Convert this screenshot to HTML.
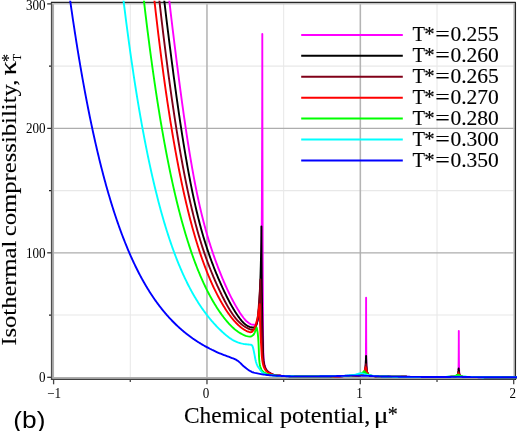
<!DOCTYPE html>
<html><head><meta charset="utf-8"><title>plot</title><style>html,body{margin:0;padding:0;background:#fff}svg{display:block;will-change:transform}</style></head><body>
<svg width="517" height="431" viewBox="0 0 517 431">
<rect width="517" height="431" fill="#fff"/>
<defs><clipPath id="c"><rect x="51" y="0.8" width="466" height="379.4"/></clipPath></defs>
<line x1="130.28" y1="3" x2="130.28" y2="378" stroke="#e8e8e8" stroke-width="1.05"/>
<line x1="283.65" y1="3" x2="283.65" y2="378" stroke="#e8e8e8" stroke-width="1.05"/>
<line x1="437.02" y1="3" x2="437.02" y2="378" stroke="#e8e8e8" stroke-width="1.05"/>
<line x1="53" y1="315.07" x2="514" y2="315.07" stroke="#e8e8e8" stroke-width="1.05"/>
<line x1="53" y1="190.60" x2="514" y2="190.60" stroke="#e8e8e8" stroke-width="1.05"/>
<line x1="53" y1="66.13" x2="514" y2="66.13" stroke="#e8e8e8" stroke-width="1.05"/>
<line x1="206.97" y1="3" x2="206.97" y2="378.7" stroke="#b4b4b4" stroke-width="1.55"/>
<line x1="360.33" y1="3" x2="360.33" y2="378.7" stroke="#b4b4b4" stroke-width="1.55"/>
<line x1="52.4" y1="252.83" x2="514.8" y2="252.83" stroke="#adadad" stroke-width="1.2"/>
<line x1="52.4" y1="128.37" x2="514.8" y2="128.37" stroke="#adadad" stroke-width="1.2"/>
<path d="M53.2,3.8 V377.9 H514" fill="none" stroke="#adadad" stroke-width="1.7"/>
<path d="M53.2,3.8 H514 V377.9" fill="none" stroke="#c4c4c4" stroke-width="1.5"/>
<path d="M51.6,380 V2.45" fill="none" stroke="#4c4c4c" stroke-width="1.4"/>
<path d="M50.9,379.3 H516.1" fill="none" stroke="#404040" stroke-width="1.3"/>
<path d="M50.9,2.45 H515.4 V380" fill="none" stroke="#262626" stroke-width="1.3" stroke-linejoin="round"/>
<line x1="47.2" y1="377.30" x2="51" y2="377.30" stroke="#222" stroke-width="1.2"/>
<line x1="47.2" y1="252.83" x2="51" y2="252.83" stroke="#222" stroke-width="1.2"/>
<line x1="47.2" y1="128.37" x2="51" y2="128.37" stroke="#222" stroke-width="1.2"/>
<line x1="47.2" y1="3.90" x2="51" y2="3.90" stroke="#222" stroke-width="1.2"/>
<line x1="49" y1="315.07" x2="51" y2="315.07" stroke="#222" stroke-width="1.2"/>
<line x1="49" y1="190.60" x2="51" y2="190.60" stroke="#222" stroke-width="1.2"/>
<line x1="49" y1="66.13" x2="51" y2="66.13" stroke="#222" stroke-width="1.2"/>
<line x1="53.60" y1="380" x2="53.60" y2="384.3" stroke="#444" stroke-width="1.3"/>
<line x1="206.97" y1="380" x2="206.97" y2="384.3" stroke="#444" stroke-width="1.3"/>
<line x1="360.33" y1="380" x2="360.33" y2="384.3" stroke="#444" stroke-width="1.3"/>
<line x1="513.70" y1="380" x2="513.70" y2="384.3" stroke="#444" stroke-width="1.3"/>
<line x1="130.28" y1="380" x2="130.28" y2="382.0" stroke="#444" stroke-width="1.3"/>
<line x1="283.65" y1="380" x2="283.65" y2="382.0" stroke="#444" stroke-width="1.3"/>
<line x1="437.02" y1="380" x2="437.02" y2="382.0" stroke="#444" stroke-width="1.3"/>
<g clip-path="url(#c)" fill="none" stroke-width="1.9" stroke-linejoin="round" stroke-linecap="butt">
<path d="M167.03,-20.00 L167.53,-15.37 L168.03,-10.80 L168.53,-6.29 L169.03,-1.82 L169.53,2.59 L170.03,6.96 L170.53,11.27 L171.03,15.53 L171.53,19.74 L172.03,23.90 L172.53,28.02 L173.03,32.11 L173.53,36.19 L174.03,40.25 L174.53,44.30 L175.03,48.34 L175.53,52.35 L176.03,56.35 L176.53,60.33 L177.03,64.28 L177.53,68.21 L178.03,72.11 L178.53,75.99 L179.03,79.83 L179.53,83.65 L180.03,87.44 L180.53,91.20 L181.03,94.92 L181.53,98.61 L182.03,102.27 L182.53,105.89 L183.03,109.48 L183.53,113.03 L184.03,116.54 L184.53,120.01 L185.03,123.45 L185.53,126.85 L186.03,130.20 L186.53,133.52 L187.03,136.80 L187.53,140.04 L188.03,143.23 L188.53,146.39 L189.03,149.50 L189.53,152.57 L190.03,155.60 L190.53,158.59 L191.03,161.53 L191.53,164.43 L192.03,167.29 L192.53,170.11 L193.03,172.89 L193.53,175.62 L194.03,178.31 L194.53,180.96 L195.03,183.57 L195.53,186.13 L196.03,188.65 L196.53,191.13 L197.03,193.57 L197.53,195.97 L198.03,198.32 L198.53,200.64 L199.03,202.91 L199.53,205.15 L200.03,207.34 L200.53,209.50 L201.03,211.61 L201.53,213.69 L202.03,215.74 L202.53,217.75 L203.03,219.73 L203.53,221.67 L204.03,223.59 L204.53,225.47 L205.03,227.32 L205.53,229.14 L206.03,230.94 L206.53,232.71 L207.03,234.45 L207.53,236.17 L208.03,237.86 L208.53,239.52 L209.03,241.17 L209.53,242.78 L210.03,244.38 L210.53,245.96 L211.03,247.51 L211.53,249.04 L212.03,250.56 L212.53,252.05 L213.03,253.53 L213.53,254.98 L214.03,256.42 L214.53,257.84 L215.03,259.25 L215.53,260.64 L216.03,262.01 L216.53,263.36 L217.03,264.70 L217.53,266.03 L218.03,267.34 L218.53,268.64 L219.03,269.92 L219.53,271.19 L220.03,272.45 L220.53,273.70 L221.03,274.93 L221.53,276.15 L222.03,277.36 L222.53,278.56 L223.03,279.74 L223.53,280.92 L224.03,282.08 L224.53,283.23 L225.03,284.37 L225.53,285.50 L226.03,286.61 L226.53,287.71 L227.03,288.81 L227.53,289.89 L228.03,290.95 L228.53,292.01 L229.03,293.05 L229.53,294.08 L230.03,295.10 L230.53,296.11 L231.03,297.10 L231.53,298.08 L232.03,299.05 L232.53,300.01 L233.03,300.96 L233.53,301.89 L234.03,302.81 L234.53,303.72 L235.03,304.62 L235.53,305.50 L236.03,306.38 L236.53,307.24 L237.03,308.09 L237.53,308.92 L238.03,309.75 L238.53,310.56 L239.03,311.36 L239.53,312.15 L240.03,312.92 L240.53,313.67 L241.03,314.40 L241.53,315.11 L242.19,316.02 L242.92,317.01 L243.66,318.00 L244.43,318.98 L245.23,319.91 L246.06,320.78 L246.93,321.58 L247.84,322.27 L248.83,323.00 L249.90,323.70 L251.01,324.29 L252.15,324.64 L253.33,324.70 L254.55,324.70 L255.61,324.28 L256.55,323.28 L257.10,322.26 L257.46,321.26 L257.78,320.19 L258.07,319.04 L258.31,317.85 L258.53,316.61 L258.72,315.35 L258.88,314.08 L259.03,312.82 L259.15,311.56 L259.27,310.34 L259.38,309.14 L259.48,307.94 L259.58,306.74 L259.67,305.54 L259.76,304.34 L259.85,303.14 L259.94,301.94 L260.02,300.74 L260.09,299.53 L260.17,298.32 L260.24,297.12 L260.30,295.91 L260.37,294.70 L260.43,293.50 L260.48,292.29 L260.54,291.08 L260.59,289.87 L260.64,288.66 L260.68,287.45 L260.73,286.24 L260.76,285.04 L260.80,283.83 L260.84,282.62 L260.87,281.41 L260.90,280.21 L260.92,279.00 L260.95,277.80 L260.97,276.59 L261.00,275.38 L261.03,274.18 L261.05,272.97 L261.07,271.76 L261.10,270.56 L261.12,269.35 L261.15,268.15 L261.17,266.94 L261.19,265.73 L261.21,264.53 L261.23,263.32 L261.26,262.11 L261.28,260.91 L261.30,259.70 L261.32,258.49 L261.34,257.29 L261.36,256.08 L261.37,254.87 L261.39,253.67 L261.41,252.46 L261.43,251.25 L261.45,250.05 L261.46,248.84 L261.48,247.63 L261.50,246.42 L261.51,245.22 L261.53,244.01 L261.54,242.80 L261.56,241.60 L261.57,240.39 L261.59,239.18 L261.60,237.98 L261.62,236.77 L261.63,235.56 L261.64,234.35 L261.66,233.15 L261.67,231.94 L261.68,230.73 L261.69,229.53 L261.71,228.32 L261.72,227.11 L261.73,225.90 L261.74,224.70 L261.75,223.49 L261.76,222.28 L261.77,221.08 L261.78,219.87 L261.79,218.66 L261.80,217.45 L261.81,216.25 L261.82,215.04 L261.82,213.83 L261.83,212.63 L261.84,211.42 L261.85,210.21 L261.85,209.00 L261.86,207.80 L261.87,206.59 L261.87,205.38 L261.88,204.18 L261.89,202.97 L261.89,201.76 L261.90,200.56 L261.90,199.35 L261.91,198.14 L261.91,196.94 L261.92,195.73 L261.92,194.52 L261.93,193.31 L261.93,192.11 L261.94,190.90 L261.94,189.69 L261.95,188.49 L261.95,187.28 L261.96,186.07 L261.96,184.87 L261.97,183.66 L261.97,182.45 L261.98,181.25 L261.98,180.04 L261.99,178.83 L261.99,177.63 L262.00,176.42 L262.00,175.21 L262.01,174.00 L262.01,172.80 L262.02,171.59 L262.02,170.38 L262.03,169.18 L262.03,167.97 L262.03,166.76 L262.04,165.56 L262.04,164.35 L262.05,163.14 L262.05,161.94 L262.06,160.73 L262.06,159.52 L262.07,158.31 L262.07,157.11 L262.07,155.90 L262.08,154.69 L262.08,153.49 L262.09,152.28 L262.09,151.07 L262.09,149.87 L262.10,148.66 L262.10,147.45 L262.11,146.25 L262.11,145.04 L262.11,143.83 L262.12,142.63 L262.12,141.42 L262.13,140.21 L262.13,139.00 L262.13,137.80 L262.14,136.59 L262.14,135.38 L262.14,134.18 L262.15,132.97 L262.15,131.76 L262.15,130.56 L262.16,129.35 L262.16,128.14 L262.16,126.94 L262.17,125.73 L262.17,124.52 L262.17,123.31 L262.18,122.11 L262.18,120.90 L262.18,119.69 L262.19,118.49 L262.19,117.28 L262.19,116.07 L262.20,114.87 L262.20,113.66 L262.20,112.45 L262.21,111.25 L262.21,110.04 L262.21,108.83 L262.21,107.62 L262.22,106.42 L262.22,105.21 L262.22,104.00 L262.22,102.80 L262.23,101.59 L262.23,100.38 L262.23,99.18 L262.23,97.97 L262.24,96.76 L262.24,95.56 L262.24,94.35 L262.24,93.14 L262.25,91.93 L262.25,90.73 L262.25,89.52 L262.25,88.31 L262.25,87.11 L262.26,85.90 L262.26,84.69 L262.26,83.49 L262.26,82.28 L262.26,81.07 L262.27,79.86 L262.27,78.66 L262.27,77.45 L262.27,76.24 L262.27,75.04 L262.27,73.83 L262.28,72.62 L262.28,71.42 L262.28,70.21 L262.28,69.00 L262.28,67.80 L262.28,66.59 L262.28,65.38 L262.28,64.17 L262.29,62.97 L262.29,61.76 L262.29,60.55 L262.29,59.35 L262.29,58.14 L262.29,56.93 L262.29,55.73 L262.29,54.52 L262.29,53.31 L262.29,52.10 L262.30,50.90 L262.30,49.69 L262.30,48.48 L262.30,47.28 L262.30,46.07 L262.30,44.86 L262.30,43.66 L262.30,42.45 L262.30,41.24 L262.30,40.03 L262.30,38.83 L262.30,37.62 L262.30,36.41 L262.30,35.21 L262.30,34.00 L262.30,35.21 L262.30,36.41 L262.30,37.62 L262.30,38.82 L262.30,40.03 L262.30,41.23 L262.30,42.44 L262.30,43.64 L262.30,44.85 L262.30,46.06 L262.31,47.26 L262.31,48.47 L262.31,49.67 L262.31,50.88 L262.31,52.08 L262.31,53.29 L262.31,54.50 L262.31,55.70 L262.31,56.91 L262.31,58.11 L262.31,59.32 L262.31,60.52 L262.32,61.73 L262.32,62.93 L262.32,64.14 L262.32,65.35 L262.32,66.55 L262.32,67.76 L262.32,68.96 L262.32,70.17 L262.32,71.37 L262.33,72.58 L262.33,73.79 L262.33,74.99 L262.33,76.20 L262.33,77.40 L262.33,78.61 L262.33,79.81 L262.33,81.02 L262.34,82.22 L262.34,83.43 L262.34,84.64 L262.34,85.84 L262.34,87.05 L262.34,88.25 L262.34,89.46 L262.35,90.66 L262.35,91.87 L262.35,93.07 L262.35,94.28 L262.35,95.49 L262.35,96.69 L262.36,97.90 L262.36,99.10 L262.36,100.31 L262.36,101.51 L262.36,102.72 L262.36,103.93 L262.37,105.13 L262.37,106.34 L262.37,107.54 L262.37,108.75 L262.37,109.95 L262.38,111.16 L262.38,112.36 L262.38,113.57 L262.38,114.78 L262.38,115.98 L262.39,117.19 L262.39,118.39 L262.39,119.60 L262.39,120.80 L262.39,122.01 L262.40,123.21 L262.40,124.42 L262.40,125.63 L262.40,126.83 L262.40,128.04 L262.41,129.24 L262.41,130.45 L262.41,131.65 L262.41,132.86 L262.41,134.07 L262.42,135.27 L262.42,136.48 L262.42,137.68 L262.42,138.89 L262.43,140.09 L262.43,141.30 L262.43,142.50 L262.43,143.71 L262.44,144.92 L262.44,146.12 L262.44,147.33 L262.44,148.53 L262.44,149.74 L262.45,150.94 L262.45,152.15 L262.45,153.35 L262.45,154.56 L262.46,155.77 L262.46,156.97 L262.46,158.18 L262.46,159.38 L262.47,160.59 L262.47,161.79 L262.47,163.00 L262.47,164.21 L262.48,165.41 L262.48,166.62 L262.48,167.82 L262.48,169.03 L262.49,170.23 L262.49,171.44 L262.49,172.64 L262.49,173.85 L262.50,175.06 L262.50,176.26 L262.50,177.47 L262.50,178.67 L262.51,179.88 L262.51,181.08 L262.51,182.29 L262.51,183.49 L262.52,184.70 L262.52,185.91 L262.52,187.11 L262.52,188.32 L262.53,189.52 L262.53,190.73 L262.53,191.93 L262.54,193.14 L262.54,194.35 L262.54,195.55 L262.54,196.76 L262.55,197.96 L262.55,199.17 L262.55,200.37 L262.55,201.58 L262.56,202.78 L262.56,203.99 L262.56,205.20 L262.56,206.40 L262.57,207.61 L262.57,208.81 L262.57,210.02 L262.58,211.22 L262.58,212.43 L262.58,213.63 L262.59,214.84 L262.59,216.05 L262.59,217.25 L262.59,218.46 L262.60,219.66 L262.60,220.87 L262.60,222.07 L262.61,223.28 L262.61,224.49 L262.62,225.69 L262.62,226.90 L262.62,228.10 L262.63,229.31 L262.63,230.51 L262.63,231.72 L262.64,232.92 L262.64,234.13 L262.64,235.34 L262.65,236.54 L262.65,237.75 L262.66,238.95 L262.66,240.16 L262.66,241.36 L262.67,242.57 L262.67,243.77 L262.68,244.98 L262.68,246.19 L262.68,247.39 L262.69,248.60 L262.69,249.80 L262.70,251.01 L262.70,252.21 L262.71,253.42 L262.71,254.63 L262.71,255.83 L262.72,257.04 L262.72,258.24 L262.73,259.45 L262.73,260.65 L262.74,261.86 L262.74,263.06 L262.75,264.27 L262.75,265.48 L262.76,266.68 L262.76,267.89 L262.76,269.09 L262.77,270.30 L262.77,271.50 L262.78,272.71 L262.78,273.91 L262.79,275.12 L262.79,276.33 L262.80,277.53 L262.80,278.74 L262.81,279.94 L262.81,281.15 L262.82,282.35 L262.83,283.56 L262.83,284.77 L262.84,285.97 L262.84,287.18 L262.85,288.38 L262.85,289.59 L262.86,290.79 L262.86,292.00 L262.87,293.20 L262.87,294.41 L262.88,295.62 L262.89,296.82 L262.89,298.03 L262.90,299.23 L262.90,300.44 L262.91,301.64 L262.91,302.85 L262.92,304.05 L262.92,305.26 L262.93,306.47 L262.93,307.67 L262.94,308.88 L262.94,310.08 L262.95,311.29 L262.95,312.49 L262.96,313.70 L262.97,314.91 L262.97,316.11 L262.98,317.32 L262.98,318.52 L262.99,319.73 L262.99,320.93 L263.00,322.14 L263.01,323.35 L263.01,324.55 L263.02,325.76 L263.03,326.96 L263.04,328.17 L263.04,329.37 L263.05,330.58 L263.06,331.79 L263.07,332.99 L263.08,334.20 L263.09,335.40 L263.10,336.61 L263.11,337.81 L263.12,339.02 L263.13,340.22 L263.15,341.43 L263.16,342.63 L263.17,343.84 L263.19,345.04 L263.20,346.25 L263.22,347.46 L263.24,348.66 L263.27,349.87 L263.30,351.08 L263.34,352.28 L263.39,353.49 L263.43,354.69 L263.49,355.90 L263.55,357.10 L263.62,358.30 L263.72,359.50 L263.85,360.71 L264.02,361.92 L264.22,363.11 L264.45,364.29 L264.71,365.44 L265.05,366.63 L265.49,367.80 L266.01,368.93 L266.60,369.95 L267.26,370.85 L268.14,371.66 L269.15,372.40 L270.20,373.06 L271.24,373.67 L272.32,374.26 L273.43,374.73 L274.57,375.04 L275.75,375.28 L276.95,375.47 L278.16,375.62 L279.36,375.73 L280.56,375.81 L281.76,375.89 L282.96,375.95 L284.17,376.01 L285.37,376.06 L286.58,376.11 L287.79,376.14 L288.99,376.18 L290.20,376.20 L291.40,376.23 L292.61,376.25 L293.81,376.28 L295.02,376.30 L296.23,376.32 L297.43,376.34 L298.64,376.36 L299.84,376.37 L301.05,376.38 L302.25,376.39 L303.46,376.40 L304.66,376.40 L305.87,376.40 L307.08,376.40 L308.28,376.40 L309.49,376.40 L310.70,376.40 L311.90,376.40 L313.11,376.39 L314.32,376.39 L315.52,376.39 L316.73,376.38 L317.94,376.38 L319.15,376.38 L320.35,376.37 L321.56,376.37 L322.77,376.36 L323.98,376.36 L325.19,376.35 L326.39,376.34 L327.60,376.34 L328.81,376.33 L330.02,376.32 L331.22,376.31 L332.43,376.30 L333.64,376.29 L334.84,376.28 L336.05,376.27 L337.26,376.26 L338.46,376.25 L339.67,376.23 L340.87,376.22 L342.08,376.20 L343.28,376.19 L344.48,376.17 L345.69,376.16 L346.89,376.14 L348.09,376.12 L349.30,376.10 L350.50,376.08 L351.70,376.06 L352.90,376.04 L354.10,376.02 L355.30,375.99 L356.53,375.94 L357.78,375.84 L359.03,375.69 L360.25,375.51 L361.40,375.28 L362.47,375.01 L363.55,374.45 L364.49,373.54 L364.96,372.56 L365.26,371.45 L365.49,370.21 L365.64,368.95 L365.71,367.73 L365.74,366.53 L365.77,365.33 L365.80,364.13 L365.82,362.93 L365.84,361.72 L365.86,360.51 L365.88,359.31 L365.89,358.10 L365.90,356.89 L365.91,355.68 L365.92,354.47 L365.93,353.26 L365.94,352.05 L365.95,350.85 L365.95,349.64 L365.96,348.44 L365.96,347.23 L365.97,346.02 L365.98,344.82 L365.98,343.61 L365.99,342.41 L365.99,341.20 L366.00,340.00 L366.00,338.79 L366.01,337.59 L366.01,336.38 L366.02,335.17 L366.02,333.97 L366.03,332.76 L366.03,331.56 L366.04,330.35 L366.04,329.15 L366.05,327.94 L366.05,326.74 L366.05,325.53 L366.06,324.32 L366.06,323.12 L366.07,321.91 L366.07,320.71 L366.07,319.50 L366.07,318.30 L366.08,317.09 L366.08,315.88 L366.08,314.68 L366.09,313.47 L366.09,312.27 L366.09,311.06 L366.09,309.86 L366.09,308.65 L366.09,307.45 L366.10,306.24 L366.10,305.03 L366.10,303.83 L366.10,302.62 L366.10,301.42 L366.10,300.21 L366.10,299.01 L366.10,297.80 L366.10,299.01 L366.10,300.22 L366.10,301.43 L366.10,302.64 L366.10,303.85 L366.10,305.06 L366.10,306.26 L366.11,307.47 L366.11,308.68 L366.11,309.89 L366.11,311.10 L366.11,312.31 L366.11,313.52 L366.12,314.73 L366.12,315.94 L366.12,317.15 L366.13,318.36 L366.13,319.57 L366.13,320.77 L366.13,321.98 L366.14,323.19 L366.14,324.40 L366.15,325.61 L366.15,326.82 L366.15,328.03 L366.16,329.24 L366.16,330.45 L366.17,331.66 L366.17,332.87 L366.18,334.08 L366.18,335.28 L366.19,336.49 L366.19,337.70 L366.20,338.91 L366.20,340.12 L366.21,341.33 L366.21,342.54 L366.22,343.75 L366.22,344.96 L366.23,346.17 L366.24,347.38 L366.24,348.59 L366.25,349.79 L366.26,351.00 L366.26,352.21 L366.27,353.42 L366.28,354.64 L366.29,355.85 L366.30,357.06 L366.31,358.27 L366.32,359.48 L366.34,360.69 L366.36,361.90 L366.38,363.11 L366.40,364.32 L366.43,365.52 L366.46,366.73 L366.50,367.93 L366.59,369.14 L366.77,370.35 L367.00,371.52 L367.36,372.73 L367.89,373.86 L368.59,374.68 L369.66,375.36 L370.85,375.78 L371.99,375.93 L373.17,376.05 L374.37,376.15 L375.59,376.24 L376.83,376.30 L378.06,376.35 L379.29,376.38 L380.50,376.41 L381.71,376.44 L382.91,376.46 L384.12,376.48 L385.33,376.51 L386.54,376.53 L387.75,376.55 L388.95,376.57 L390.16,376.59 L391.37,376.62 L392.58,376.64 L393.79,376.65 L395.00,376.67 L396.21,376.69 L397.41,376.71 L398.62,376.73 L399.83,376.74 L401.04,376.76 L402.25,376.77 L403.46,376.79 L404.67,376.80 L405.88,376.82 L407.09,376.83 L408.30,376.84 L409.51,376.85 L410.72,376.87 L411.93,376.88 L413.14,376.89 L414.35,376.90 L415.56,376.91 L416.77,376.92 L417.98,376.93 L419.19,376.93 L420.39,376.94 L421.60,376.95 L422.81,376.96 L424.02,376.96 L425.23,376.97 L426.44,376.97 L427.65,376.98 L428.86,376.98 L430.07,376.99 L431.28,376.99 L432.49,376.99 L433.70,376.99 L434.91,377.00 L436.12,377.00 L437.33,377.00 L438.54,377.00 L439.74,377.00 L440.96,377.00 L442.18,376.99 L443.41,376.99 L444.64,376.98 L445.87,376.96 L447.11,376.94 L448.33,376.91 L449.56,376.88 L450.77,376.84 L451.97,376.79 L453.15,376.74 L454.32,376.67 L455.46,376.60 L456.72,376.25 L457.62,375.57 L458.01,374.59 L458.27,373.30 L458.40,372.01 L458.45,370.82 L458.49,369.62 L458.52,368.41 L458.55,367.21 L458.58,366.00 L458.60,364.79 L458.62,363.58 L458.64,362.36 L458.65,361.15 L458.66,359.93 L458.67,358.72 L458.68,357.51 L458.69,356.29 L458.70,355.08 L458.71,353.87 L458.72,352.67 L458.72,351.46 L458.73,350.25 L458.74,349.04 L458.75,347.83 L458.75,346.62 L458.76,345.41 L458.77,344.20 L458.77,342.99 L458.78,341.78 L458.78,340.57 L458.79,339.36 L458.79,338.16 L458.79,336.95 L458.79,335.74 L458.80,334.53 L458.80,333.32 L458.80,332.11 L458.80,330.90 L458.80,332.12 L458.80,333.33 L458.80,334.55 L458.81,335.77 L458.81,336.98 L458.81,338.20 L458.82,339.42 L458.82,340.63 L458.82,341.85 L458.83,343.07 L458.84,344.28 L458.84,345.50 L458.85,346.72 L458.85,347.93 L458.86,349.15 L458.87,350.37 L458.88,351.58 L458.88,352.80 L458.89,354.01 L458.90,355.23 L458.91,356.45 L458.92,357.67 L458.93,358.89 L458.94,360.11 L458.95,361.33 L458.97,362.55 L458.98,363.77 L459.01,364.99 L459.03,366.21 L459.06,367.42 L459.09,368.64 L459.12,369.85 L459.16,371.05 L459.21,372.26 L459.35,373.57 L459.61,374.82 L460.00,375.76 L461.03,376.51 L462.24,376.81 L463.38,376.87 L464.55,376.92 L465.74,376.96 L466.96,377.00 L468.20,377.02 L469.44,377.04 L470.69,377.06 L471.94,377.07 L473.19,377.08 L474.42,377.09 L475.64,377.11 L476.85,377.12 L478.07,377.13 L479.29,377.14 L480.50,377.15 L481.72,377.16 L482.94,377.17 L484.15,377.17 L485.37,377.18 L486.58,377.19 L487.80,377.20 L489.02,377.21 L490.23,377.22 L491.45,377.22 L492.67,377.23 L493.88,377.24 L495.10,377.24 L496.32,377.25 L497.53,377.25 L498.75,377.26 L499.97,377.26 L501.18,377.27 L502.40,377.27 L503.62,377.28 L504.83,377.28 L506.05,377.29 L507.27,377.29 L508.48,377.29 L509.70,377.29 L510.92,377.30 L512.13,377.30 L513.35,377.30 L514.57,377.30 L515.78,377.30 L517.00,377.30" stroke="#ff00ff"/>
<path d="M161.94,-20.00 L162.44,-15.46 L162.94,-10.98 L163.44,-6.54 L163.94,-2.16 L164.44,2.17 L164.94,6.46 L165.44,10.69 L165.94,14.88 L166.44,19.02 L166.94,23.11 L167.44,27.16 L167.94,31.17 L168.44,35.17 L168.94,39.15 L169.44,43.11 L169.94,47.05 L170.44,50.97 L170.94,54.87 L171.44,58.75 L171.94,62.60 L172.44,66.43 L172.94,70.23 L173.44,74.01 L173.94,77.76 L174.44,81.47 L174.94,85.16 L175.44,88.82 L175.94,92.45 L176.44,96.05 L176.94,99.61 L177.44,103.14 L177.94,106.64 L178.44,110.11 L178.94,113.54 L179.44,116.93 L179.94,120.29 L180.44,123.62 L180.94,126.91 L181.44,130.16 L181.94,133.38 L182.44,136.56 L182.94,139.70 L183.44,142.81 L183.94,145.87 L184.44,148.91 L184.94,151.90 L185.44,154.85 L185.94,157.77 L186.44,160.65 L186.94,163.50 L187.44,166.30 L187.94,169.07 L188.44,171.80 L188.94,174.49 L189.44,177.14 L189.94,179.76 L190.44,182.34 L190.94,184.88 L191.44,187.38 L191.94,189.85 L192.44,192.28 L192.94,194.67 L193.44,197.03 L193.94,199.35 L194.44,201.63 L194.94,203.88 L195.44,206.09 L195.94,208.27 L196.44,210.41 L196.94,212.52 L197.44,214.59 L197.94,216.63 L198.44,218.63 L198.94,220.60 L199.44,222.53 L199.94,224.43 L200.44,226.30 L200.94,228.14 L201.44,229.95 L201.94,231.73 L202.44,233.48 L202.94,235.20 L203.44,236.90 L203.94,238.57 L204.44,240.21 L204.94,241.83 L205.44,243.43 L205.94,245.00 L206.44,246.55 L206.94,248.08 L207.44,249.59 L207.94,251.08 L208.44,252.55 L208.94,254.00 L209.44,255.43 L209.94,256.84 L210.44,258.23 L210.94,259.61 L211.44,260.97 L211.94,262.32 L212.44,263.65 L212.94,264.96 L213.44,266.26 L213.94,267.54 L214.44,268.82 L214.94,270.07 L215.44,271.32 L215.94,272.55 L216.44,273.77 L216.94,274.98 L217.44,276.17 L217.94,277.36 L218.44,278.53 L218.94,279.70 L219.44,280.85 L219.94,281.99 L220.44,283.12 L220.94,284.25 L221.44,285.36 L221.94,286.46 L222.44,287.56 L222.94,288.65 L223.44,289.72 L223.94,290.79 L224.44,291.85 L224.94,292.90 L225.44,293.93 L225.94,294.96 L226.44,295.98 L226.94,296.98 L227.44,297.97 L227.94,298.95 L228.44,299.92 L228.94,300.88 L229.44,301.83 L229.94,302.76 L230.44,303.68 L230.94,304.59 L231.44,305.48 L231.94,306.37 L232.44,307.24 L232.94,308.09 L233.44,308.94 L233.94,309.77 L234.44,310.59 L234.94,311.39 L235.44,312.18 L235.94,312.96 L236.44,313.73 L236.94,314.48 L237.44,315.22 L237.94,315.95 L238.44,316.66 L238.94,317.36 L239.44,318.04 L239.94,318.70 L240.44,319.35 L240.94,319.98 L241.44,320.58 L241.92,321.10 L242.76,322.00 L243.63,322.89 L244.54,323.75 L245.48,324.54 L246.46,325.25 L247.46,325.83 L248.53,326.35 L249.66,326.85 L250.84,327.28 L252.03,327.54 L253.23,327.57 L254.38,327.27 L255.30,326.55 L256.06,325.46 L256.55,324.35 L256.88,323.28 L257.17,322.15 L257.43,320.99 L257.65,319.80 L257.85,318.58 L258.03,317.34 L258.18,316.09 L258.32,314.85 L258.45,313.61 L258.56,312.39 L258.67,311.19 L258.78,309.99 L258.88,308.79 L258.98,307.58 L259.08,306.38 L259.17,305.17 L259.26,303.96 L259.34,302.75 L259.42,301.55 L259.50,300.34 L259.57,299.13 L259.64,297.92 L259.70,296.71 L259.77,295.49 L259.83,294.28 L259.89,293.07 L259.94,291.86 L259.99,290.65 L260.04,289.44 L260.09,288.23 L260.13,287.02 L260.17,285.81 L260.21,284.60 L260.25,283.39 L260.29,282.18 L260.33,280.97 L260.37,279.76 L260.41,278.55 L260.44,277.34 L260.48,276.13 L260.52,274.92 L260.56,273.71 L260.59,272.50 L260.63,271.29 L260.66,270.08 L260.70,268.87 L260.73,267.66 L260.77,266.45 L260.80,265.24 L260.83,264.03 L260.86,262.82 L260.90,261.61 L260.93,260.40 L260.96,259.19 L260.99,257.98 L261.01,256.77 L261.04,255.56 L261.07,254.35 L261.09,253.14 L261.12,251.93 L261.14,250.72 L261.17,249.51 L261.19,248.30 L261.21,247.09 L261.23,245.88 L261.25,244.67 L261.27,243.46 L261.29,242.25 L261.30,241.04 L261.32,239.82 L261.33,238.61 L261.34,237.40 L261.36,236.19 L261.37,234.98 L261.37,233.77 L261.38,232.56 L261.39,231.35 L261.39,230.13 L261.40,228.92 L261.40,227.71 L261.40,226.50 L261.40,227.71 L261.41,228.92 L261.41,230.13 L261.41,231.34 L261.42,232.56 L261.42,233.77 L261.42,234.98 L261.43,236.19 L261.43,237.40 L261.44,238.61 L261.45,239.82 L261.45,241.03 L261.46,242.24 L261.46,243.45 L261.47,244.67 L261.48,245.88 L261.49,247.09 L261.49,248.30 L261.50,249.51 L261.51,250.72 L261.52,251.93 L261.53,253.14 L261.53,254.35 L261.54,255.56 L261.55,256.77 L261.56,257.99 L261.57,259.20 L261.58,260.41 L261.59,261.62 L261.60,262.83 L261.61,264.04 L261.62,265.25 L261.63,266.46 L261.64,267.67 L261.65,268.88 L261.66,270.10 L261.67,271.31 L261.68,272.52 L261.69,273.73 L261.71,274.94 L261.72,276.15 L261.73,277.36 L261.74,278.57 L261.75,279.78 L261.76,280.99 L261.77,282.20 L261.78,283.42 L261.80,284.63 L261.81,285.84 L261.82,287.05 L261.83,288.26 L261.85,289.47 L261.86,290.68 L261.87,291.89 L261.89,293.10 L261.90,294.31 L261.92,295.52 L261.94,296.74 L261.95,297.95 L261.97,299.16 L261.99,300.37 L262.00,301.58 L262.02,302.79 L262.04,304.00 L262.06,305.21 L262.08,306.42 L262.10,307.63 L262.11,308.84 L262.13,310.06 L262.15,311.27 L262.17,312.48 L262.20,313.69 L262.22,314.90 L262.24,316.11 L262.26,317.32 L262.28,318.53 L262.30,319.74 L262.32,320.95 L262.35,322.16 L262.37,323.37 L262.39,324.58 L262.42,325.80 L262.44,327.01 L262.46,328.22 L262.49,329.43 L262.51,330.64 L262.54,331.85 L262.57,333.06 L262.60,334.27 L262.62,335.48 L262.65,336.69 L262.68,337.90 L262.71,339.11 L262.75,340.32 L262.78,341.53 L262.81,342.75 L262.84,343.96 L262.88,345.17 L262.91,346.38 L262.94,347.59 L262.97,348.80 L263.00,350.01 L263.04,351.22 L263.07,352.44 L263.11,353.65 L263.15,354.86 L263.20,356.07 L263.26,357.27 L263.33,358.48 L263.44,359.69 L263.58,360.90 L263.75,362.11 L263.96,363.31 L264.19,364.49 L264.46,365.65 L264.83,366.84 L265.28,368.02 L265.82,369.13 L266.42,370.14 L267.12,371.02 L268.03,371.82 L269.06,372.55 L270.12,373.20 L271.18,373.78 L272.28,374.31 L273.42,374.74 L274.58,375.03 L275.76,375.27 L276.97,375.47 L278.18,375.63 L279.38,375.73 L280.59,375.81 L281.79,375.89 L283.00,375.95 L284.21,376.01 L285.43,376.06 L286.64,376.11 L287.85,376.15 L289.06,376.18 L290.27,376.21 L291.48,376.23 L292.69,376.26 L293.90,376.28 L295.12,376.30 L296.33,376.32 L297.54,376.34 L298.75,376.36 L299.96,376.37 L301.17,376.38 L302.38,376.39 L303.59,376.40 L304.80,376.40 L306.01,376.40 L307.23,376.40 L308.44,376.40 L309.65,376.40 L310.86,376.40 L312.07,376.39 L313.29,376.39 L314.50,376.39 L315.71,376.39 L316.92,376.38 L318.14,376.38 L319.35,376.37 L320.56,376.37 L321.78,376.36 L322.99,376.36 L324.20,376.35 L325.41,376.35 L326.63,376.34 L327.84,376.33 L329.05,376.32 L330.26,376.31 L331.48,376.30 L332.69,376.29 L333.90,376.28 L335.11,376.27 L336.32,376.26 L337.53,376.25 L338.75,376.23 L339.96,376.22 L341.17,376.20 L342.38,376.19 L343.59,376.17 L344.79,376.16 L346.00,376.14 L347.21,376.12 L348.42,376.10 L349.63,376.08 L350.83,376.06 L352.04,376.04 L353.25,376.01 L354.45,375.99 L355.69,375.93 L356.95,375.84 L358.20,375.71 L359.43,375.54 L360.60,375.33 L361.70,375.08 L362.78,374.65 L363.82,373.82 L364.45,372.87 L364.79,371.81 L365.05,370.61 L365.25,369.33 L365.39,368.09 L365.50,366.89 L365.59,365.68 L365.67,364.47 L365.73,363.26 L365.79,362.05 L365.86,360.84 L365.92,359.63 L365.98,358.42 L366.04,357.21 L366.10,356.00 L366.13,357.22 L366.17,358.43 L366.21,359.65 L366.26,360.86 L366.30,362.08 L366.35,363.29 L366.40,364.51 L366.46,365.73 L366.53,366.94 L366.61,368.15 L366.71,369.37 L366.85,370.59 L367.06,371.77 L367.45,373.00 L368.02,374.07 L368.81,374.85 L369.95,375.49 L371.13,375.82 L372.28,375.96 L373.47,376.08 L374.69,376.18 L375.92,376.25 L377.16,376.31 L378.40,376.36 L379.63,376.39 L380.85,376.42 L382.06,376.44 L383.28,376.47 L384.49,376.49 L385.71,376.51 L386.92,376.54 L388.14,376.56 L389.35,376.58 L390.57,376.60 L391.78,376.62 L393.00,376.64 L394.22,376.66 L395.43,376.68 L396.65,376.70 L397.86,376.72 L399.08,376.73 L400.30,376.75 L401.51,376.76 L402.73,376.78 L403.95,376.79 L405.16,376.81 L406.38,376.82 L407.60,376.84 L408.81,376.85 L410.03,376.86 L411.25,376.87 L412.46,376.88 L413.68,376.89 L414.90,376.90 L416.11,376.91 L417.33,376.92 L418.55,376.93 L419.76,376.94 L420.98,376.94 L422.20,376.95 L423.42,376.96 L424.63,376.96 L425.85,376.97 L427.07,376.97 L428.28,376.98 L429.50,376.98 L430.72,376.99 L431.93,376.99 L433.15,376.99 L434.36,377.00 L435.58,377.00 L436.80,377.00 L438.01,377.00 L439.23,377.00 L440.45,377.00 L441.67,377.00 L442.90,376.99 L444.14,376.98 L445.37,376.96 L446.61,376.94 L447.84,376.91 L449.07,376.88 L450.29,376.84 L451.50,376.79 L452.69,376.73 L453.87,376.67 L455.03,376.60 L456.31,376.25 L457.28,375.62 L457.73,374.67 L458.04,373.37 L458.27,372.13 L458.46,370.93 L458.61,369.72 L458.70,368.50 L458.76,369.75 L458.89,370.99 L459.06,372.21 L459.26,373.49 L459.56,374.78 L460.01,375.76 L461.06,376.52 L462.28,376.82 L463.45,376.88 L464.64,376.93 L465.87,376.97 L467.12,377.00 L468.38,377.03 L469.65,377.05 L470.93,377.06 L472.21,377.08 L473.48,377.09 L474.73,377.10 L475.98,377.11 L477.22,377.12 L478.46,377.13 L479.71,377.14 L480.95,377.15 L482.19,377.16 L483.43,377.17 L484.68,377.18 L485.92,377.19 L487.16,377.20 L488.41,377.20 L489.65,377.21 L490.89,377.22 L492.14,377.23 L493.38,377.23 L494.62,377.24 L495.86,377.25 L497.11,377.25 L498.35,377.26 L499.59,377.26 L500.84,377.27 L502.08,377.27 L503.32,377.28 L504.57,377.28 L505.81,377.28 L507.05,377.29 L508.30,377.29 L509.54,377.29 L510.78,377.30 L512.03,377.30 L513.27,377.30 L514.51,377.30 L515.76,377.30 L517.00,377.30" stroke="#000000"/>
<path d="M157.14,-20.00 L157.64,-15.31 L158.14,-10.67 L158.64,-6.09 L159.14,-1.57 L159.64,2.90 L160.14,7.32 L160.64,11.69 L161.14,16.01 L161.64,20.27 L162.14,24.49 L162.64,28.65 L163.14,32.78 L163.64,36.86 L164.14,40.92 L164.64,44.93 L165.14,48.91 L165.64,52.86 L166.14,56.77 L166.64,60.64 L167.14,64.47 L167.64,68.27 L168.14,72.03 L168.64,75.76 L169.14,79.45 L169.64,83.10 L170.14,86.71 L170.64,90.29 L171.14,93.83 L171.64,97.33 L172.14,100.80 L172.64,104.23 L173.14,107.62 L173.64,110.97 L174.14,114.29 L174.64,117.57 L175.14,120.81 L175.64,124.02 L176.14,127.19 L176.64,130.32 L177.14,133.42 L177.64,136.48 L178.14,139.50 L178.64,142.49 L179.14,145.44 L179.64,148.36 L180.14,151.24 L180.64,154.09 L181.14,156.90 L181.64,159.67 L182.14,162.41 L182.64,165.12 L183.14,167.79 L183.64,170.43 L184.14,173.03 L184.64,175.60 L185.14,178.14 L185.64,180.64 L186.14,183.11 L186.64,185.55 L187.14,187.95 L187.64,190.33 L188.14,192.67 L188.64,194.98 L189.14,197.25 L189.64,199.50 L190.14,201.72 L190.64,203.90 L191.14,206.05 L191.64,208.18 L192.14,210.27 L192.64,212.34 L193.14,214.37 L193.64,216.38 L194.14,218.36 L194.64,220.31 L195.14,222.23 L195.64,224.12 L196.14,225.99 L196.64,227.83 L197.14,229.64 L197.64,231.43 L198.14,233.19 L198.64,234.92 L199.14,236.62 L199.64,238.31 L200.14,239.96 L200.64,241.59 L201.14,243.20 L201.64,244.79 L202.14,246.35 L202.64,247.89 L203.14,249.41 L203.64,250.91 L204.14,252.39 L204.64,253.85 L205.14,255.29 L205.64,256.71 L206.14,258.12 L206.64,259.50 L207.14,260.87 L207.64,262.22 L208.14,263.56 L208.64,264.88 L209.14,266.19 L209.64,267.48 L210.14,268.75 L210.64,270.01 L211.14,271.26 L211.64,272.50 L212.14,273.72 L212.64,274.93 L213.14,276.12 L213.64,277.30 L214.14,278.48 L214.64,279.64 L215.14,280.78 L215.64,281.92 L216.14,283.05 L216.64,284.16 L217.14,285.27 L217.64,286.36 L218.14,287.45 L218.64,288.52 L219.14,289.59 L219.64,290.65 L220.14,291.70 L220.64,292.73 L221.14,293.76 L221.64,294.79 L222.14,295.80 L222.64,296.81 L223.14,297.80 L223.64,298.79 L224.14,299.77 L224.64,300.73 L225.14,301.69 L225.64,302.63 L226.14,303.56 L226.64,304.48 L227.14,305.38 L227.64,306.27 L228.14,307.14 L228.64,308.00 L229.14,308.85 L229.64,309.68 L230.14,310.49 L230.64,311.29 L231.14,312.07 L231.64,312.83 L232.14,313.58 L232.64,314.30 L233.14,315.02 L233.64,315.71 L234.14,316.39 L234.64,317.04 L235.14,317.68 L235.64,318.30 L236.14,318.91 L236.64,319.49 L237.14,320.06 L237.64,320.60 L238.14,321.13 L238.64,321.64 L239.14,322.13 L239.64,322.61 L240.14,323.07 L240.64,323.51 L241.14,323.93 L241.64,324.34 L242.13,324.73 L243.11,325.47 L244.13,326.18 L245.17,326.85 L246.23,327.48 L247.31,328.06 L248.41,328.62 L249.54,329.21 L250.70,329.66 L251.89,329.80 L253.16,329.73 L254.13,329.32 L254.96,328.26 L255.57,327.07 L255.99,325.99 L256.35,324.84 L256.66,323.64 L256.93,322.41 L257.16,321.17 L257.36,319.93 L257.54,318.71 L257.70,317.50 L257.85,316.28 L257.99,315.06 L258.12,313.84 L258.24,312.62 L258.35,311.39 L258.46,310.17 L258.56,308.94 L258.65,307.71 L258.74,306.48 L258.83,305.25 L258.92,304.03 L259.01,302.80 L259.10,301.58 L259.19,300.35 L259.28,299.13 L259.37,297.90 L259.45,296.68 L259.53,295.45 L259.61,294.23 L259.69,293.00 L259.77,291.77 L259.84,290.55 L259.92,289.32 L259.99,288.09 L260.05,286.87 L260.12,285.64 L260.18,284.41 L260.24,283.18 L260.30,281.96 L260.35,280.73 L260.40,279.50 L260.43,280.71 L260.46,281.93 L260.48,283.14 L260.51,284.35 L260.54,285.57 L260.57,286.78 L260.60,287.99 L260.63,289.21 L260.66,290.42 L260.69,291.63 L260.72,292.85 L260.75,294.06 L260.78,295.27 L260.81,296.49 L260.84,297.70 L260.87,298.91 L260.90,300.13 L260.93,301.34 L260.97,302.55 L261.00,303.77 L261.03,304.98 L261.06,306.19 L261.10,307.41 L261.13,308.62 L261.16,309.83 L261.20,311.05 L261.23,312.26 L261.26,313.47 L261.30,314.69 L261.33,315.90 L261.37,317.11 L261.40,318.33 L261.44,319.54 L261.47,320.75 L261.51,321.97 L261.54,323.18 L261.58,324.39 L261.62,325.61 L261.66,326.82 L261.69,328.03 L261.73,329.25 L261.77,330.46 L261.80,331.67 L261.84,332.89 L261.88,334.10 L261.92,335.31 L261.96,336.52 L262.00,337.74 L262.04,338.95 L262.08,340.16 L262.12,341.38 L262.17,342.59 L262.21,343.80 L262.26,345.02 L262.31,346.23 L262.36,347.44 L262.40,348.66 L262.45,349.87 L262.50,351.08 L262.56,352.30 L262.61,353.51 L262.68,354.72 L262.75,355.93 L262.83,357.14 L262.93,358.35 L263.05,359.56 L263.21,360.77 L263.39,361.98 L263.61,363.18 L263.85,364.36 L264.13,365.53 L264.50,366.72 L264.94,367.90 L265.47,369.02 L266.06,370.05 L266.74,370.94 L267.64,371.76 L268.67,372.50 L269.73,373.15 L270.79,373.71 L271.91,374.21 L273.06,374.64 L274.22,374.95 L275.40,375.20 L276.61,375.41 L277.82,375.58 L279.02,375.70 L280.23,375.79 L281.44,375.87 L282.65,375.94 L283.86,376.00 L285.08,376.05 L286.29,376.10 L287.51,376.14 L288.72,376.17 L289.94,376.20 L291.15,376.22 L292.36,376.25 L293.58,376.27 L294.79,376.30 L296.00,376.32 L297.22,376.34 L298.43,376.35 L299.65,376.37 L300.86,376.38 L302.07,376.39 L303.29,376.40 L304.50,376.40 L305.71,376.40 L306.93,376.40 L308.14,376.40 L309.36,376.40 L310.57,376.40 L311.79,376.39 L313.00,376.39 L314.21,376.39 L315.43,376.38 L316.64,376.38 L317.86,376.38 L319.07,376.37 L320.29,376.37 L321.50,376.36 L322.72,376.35 L323.93,376.35 L325.15,376.34 L326.36,376.33 L327.58,376.32 L328.79,376.31 L330.01,376.30 L331.22,376.29 L332.44,376.28 L333.65,376.27 L334.87,376.26 L336.08,376.24 L337.29,376.23 L338.51,376.21 L339.72,376.20 L340.93,376.18 L342.15,376.16 L343.36,376.15 L344.57,376.13 L345.78,376.11 L346.99,376.09 L348.20,376.07 L349.42,376.05 L350.63,376.03 L351.84,376.00 L353.06,375.97 L354.31,375.92 L355.57,375.84 L356.83,375.73 L358.06,375.59 L359.26,375.43 L360.41,375.23 L361.49,375.00 L362.58,374.48 L363.56,373.60 L364.18,372.66 L364.59,371.56 L364.92,370.33 L365.18,369.10 L365.41,367.92 L365.62,366.72 L365.78,365.52 L365.90,364.30 L366.06,365.51 L366.22,366.72 L366.39,367.93 L366.54,369.15 L366.70,370.37 L366.91,371.56 L367.28,372.79 L367.82,373.92 L368.56,374.72 L369.66,375.38 L370.87,375.78 L372.03,375.93 L373.22,376.06 L374.44,376.16 L375.67,376.24 L376.92,376.30 L378.16,376.35 L379.40,376.39 L380.62,376.41 L381.84,376.44 L383.07,376.46 L384.29,376.49 L385.51,376.51 L386.73,376.53 L387.95,376.56 L389.17,376.58 L390.39,376.60 L391.62,376.62 L392.84,376.64 L394.06,376.66 L395.28,376.68 L396.50,376.70 L397.73,376.71 L398.95,376.73 L400.17,376.75 L401.39,376.76 L402.62,376.78 L403.84,376.79 L405.06,376.81 L406.28,376.82 L407.51,376.83 L408.73,376.85 L409.95,376.86 L411.17,376.87 L412.40,376.88 L413.62,376.89 L414.84,376.90 L416.07,376.91 L417.29,376.92 L418.51,376.93 L419.73,376.94 L420.96,376.94 L422.18,376.95 L423.40,376.96 L424.63,376.96 L425.85,376.97 L427.07,376.97 L428.29,376.98 L429.52,376.98 L430.74,376.99 L431.96,376.99 L433.18,376.99 L434.41,377.00 L435.63,377.00 L436.85,377.00 L438.07,377.00 L439.30,377.00 L440.52,377.00 L441.74,377.00 L442.98,376.99 L444.21,376.97 L445.44,376.95 L446.68,376.93 L447.91,376.90 L449.13,376.86 L450.36,376.81 L451.57,376.76 L452.78,376.70 L453.97,376.63 L455.19,376.50 L456.42,376.11 L457.32,375.49 L457.94,374.35 L458.34,373.22 L458.60,372.00 L458.86,373.24 L459.28,374.40 L459.93,375.52 L460.86,376.25 L462.08,376.74 L463.28,376.84 L464.49,376.90 L465.72,376.95 L466.96,376.98 L468.22,377.01 L469.49,377.04 L470.76,377.06 L472.03,377.07 L473.29,377.08 L474.55,377.10 L475.80,377.11 L477.05,377.12 L478.29,377.13 L479.54,377.14 L480.79,377.15 L482.04,377.16 L483.29,377.17 L484.54,377.18 L485.79,377.19 L487.03,377.20 L488.28,377.20 L489.53,377.21 L490.78,377.22 L492.03,377.23 L493.28,377.23 L494.52,377.24 L495.77,377.25 L497.02,377.25 L498.27,377.26 L499.52,377.26 L500.77,377.27 L502.02,377.27 L503.26,377.28 L504.51,377.28 L505.76,377.28 L507.01,377.29 L508.26,377.29 L509.51,377.29 L510.76,377.30 L512.00,377.30 L513.25,377.30 L514.50,377.30 L515.75,377.30 L517.00,377.30" stroke="#800018"/>
<path d="M152.22,-20.00 L152.72,-15.26 L153.22,-10.57 L153.72,-5.95 L154.22,-1.37 L154.72,3.15 L155.22,7.61 L155.72,12.02 L156.22,16.38 L156.72,20.69 L157.22,24.94 L157.72,29.15 L158.22,33.31 L158.72,37.42 L159.22,41.48 L159.72,45.50 L160.22,49.47 L160.72,53.40 L161.22,57.28 L161.72,61.12 L162.22,64.92 L162.72,68.67 L163.22,72.38 L163.72,76.04 L164.22,79.67 L164.72,83.25 L165.22,86.79 L165.72,90.29 L166.22,93.75 L166.72,97.18 L167.22,100.56 L167.72,103.90 L168.22,107.20 L168.72,110.46 L169.22,113.69 L169.72,116.88 L170.22,120.03 L170.72,123.14 L171.22,126.22 L171.72,129.26 L172.22,132.26 L172.72,135.23 L173.22,138.16 L173.72,141.06 L174.22,143.93 L174.72,146.76 L175.22,149.55 L175.72,152.31 L176.22,155.04 L176.72,157.74 L177.22,160.41 L177.72,163.04 L178.22,165.64 L178.72,168.21 L179.22,170.75 L179.72,173.25 L180.22,175.73 L180.72,178.18 L181.22,180.60 L181.72,182.98 L182.22,185.34 L182.72,187.67 L183.22,189.98 L183.72,192.25 L184.22,194.50 L184.72,196.71 L185.22,198.91 L185.72,201.07 L186.22,203.21 L186.72,205.32 L187.22,207.40 L187.72,209.46 L188.22,211.50 L188.72,213.51 L189.22,215.49 L189.72,217.45 L190.22,219.39 L190.72,221.30 L191.22,223.18 L191.72,225.05 L192.22,226.89 L192.72,228.71 L193.22,230.50 L193.72,232.28 L194.22,234.03 L194.72,235.75 L195.22,237.46 L195.72,239.15 L196.22,240.81 L196.72,242.46 L197.22,244.08 L197.72,245.68 L198.22,247.26 L198.72,248.83 L199.22,250.37 L199.72,251.89 L200.22,253.40 L200.72,254.88 L201.22,256.35 L201.72,257.80 L202.22,259.23 L202.72,260.64 L203.22,262.03 L203.72,263.41 L204.22,264.77 L204.72,266.11 L205.22,267.43 L205.72,268.74 L206.22,270.03 L206.72,271.30 L207.22,272.56 L207.72,273.81 L208.22,275.03 L208.72,276.24 L209.22,277.44 L209.72,278.62 L210.22,279.79 L210.72,280.94 L211.22,282.08 L211.72,283.20 L212.22,284.31 L212.72,285.40 L213.22,286.48 L213.72,287.55 L214.22,288.60 L214.72,289.64 L215.22,290.66 L215.72,291.68 L216.22,292.68 L216.72,293.67 L217.22,294.64 L217.72,295.60 L218.22,296.55 L218.72,297.49 L219.22,298.42 L219.72,299.33 L220.22,300.24 L220.72,301.13 L221.22,302.01 L221.72,302.88 L222.22,303.74 L222.72,304.58 L223.22,305.42 L223.72,306.25 L224.22,307.06 L224.72,307.86 L225.22,308.65 L225.72,309.43 L226.22,310.20 L226.72,310.96 L227.22,311.70 L227.72,312.43 L228.22,313.15 L228.72,313.86 L229.22,314.56 L229.72,315.24 L230.22,315.91 L230.72,316.57 L231.22,317.22 L231.72,317.85 L232.22,318.48 L232.72,319.09 L233.22,319.68 L233.72,320.27 L234.22,320.84 L234.72,321.40 L235.22,321.95 L235.72,322.49 L236.22,323.02 L236.72,323.53 L237.22,324.03 L237.72,324.52 L238.22,324.99 L238.72,325.46 L239.22,325.91 L239.72,326.35 L240.22,326.77 L240.72,327.19 L241.22,327.58 L241.72,327.97 L242.49,328.52 L243.52,329.22 L244.57,329.89 L245.65,330.51 L246.76,331.05 L247.88,331.51 L249.10,331.95 L250.30,332.26 L251.40,332.16 L252.46,331.39 L253.32,330.40 L253.94,329.43 L254.45,328.31 L254.89,327.10 L255.30,325.90 L255.69,324.73 L256.04,323.55 L256.36,322.36 L256.69,321.17 L257.03,319.98 L257.37,318.79 L257.66,317.60 L257.89,316.39 L258.07,315.18 L258.22,313.95 L258.37,312.73 L258.53,311.50 L258.71,310.28 L258.89,309.06 L259.09,307.85 L259.28,306.63 L259.49,305.41 L259.70,304.20 L259.71,305.41 L259.73,306.62 L259.75,307.83 L259.76,309.04 L259.78,310.24 L259.81,311.45 L259.83,312.66 L259.86,313.87 L259.88,315.08 L259.91,316.29 L259.94,317.49 L259.97,318.70 L260.00,319.91 L260.03,321.12 L260.06,322.33 L260.10,323.54 L260.14,324.74 L260.18,325.95 L260.22,327.16 L260.27,328.37 L260.32,329.58 L260.37,330.78 L260.42,331.99 L260.47,333.20 L260.53,334.41 L260.58,335.62 L260.64,336.82 L260.70,338.03 L260.77,339.24 L260.85,340.44 L260.92,341.65 L261.00,342.86 L261.08,344.06 L261.15,345.27 L261.23,346.47 L261.30,347.68 L261.37,348.89 L261.44,350.10 L261.50,351.31 L261.58,352.52 L261.65,353.72 L261.74,354.93 L261.83,356.13 L261.94,357.33 L262.06,358.53 L262.20,359.74 L262.37,360.95 L262.58,362.15 L262.81,363.34 L263.08,364.51 L263.38,365.66 L263.79,366.83 L264.27,367.99 L264.84,369.09 L265.47,370.08 L266.18,370.96 L267.09,371.77 L268.11,372.50 L269.18,373.13 L270.24,373.65 L271.36,374.11 L272.52,374.51 L273.70,374.83 L274.87,375.09 L276.06,375.32 L277.26,375.51 L278.46,375.65 L279.66,375.75 L280.87,375.83 L282.07,375.90 L283.28,375.97 L284.49,376.02 L285.70,376.07 L286.91,376.12 L288.12,376.15 L289.33,376.18 L290.53,376.21 L291.74,376.24 L292.95,376.26 L294.16,376.28 L295.37,376.31 L296.58,376.33 L297.79,376.34 L298.99,376.36 L300.20,376.37 L301.41,376.38 L302.62,376.39 L303.83,376.40 L305.04,376.40 L306.25,376.40 L307.46,376.40 L308.67,376.40 L309.87,376.40 L311.08,376.39 L312.29,376.39 L313.50,376.39 L314.71,376.38 L315.92,376.38 L317.13,376.38 L318.34,376.37 L319.55,376.36 L320.76,376.36 L321.97,376.35 L323.18,376.34 L324.39,376.34 L325.60,376.33 L326.81,376.32 L328.02,376.31 L329.23,376.30 L330.44,376.29 L331.65,376.27 L332.86,376.26 L334.07,376.25 L335.28,376.23 L336.49,376.22 L337.69,376.20 L338.90,376.19 L340.11,376.17 L341.32,376.15 L342.53,376.13 L343.73,376.11 L344.94,376.09 L346.15,376.07 L347.35,376.05 L348.56,376.03 L349.76,376.00 L350.97,375.97 L352.19,375.92 L353.42,375.84 L354.65,375.75 L355.87,375.62 L357.07,375.48 L358.26,375.31 L359.42,375.11 L360.57,374.85 L361.72,374.34 L362.72,373.67 L363.47,372.80 L364.08,371.69 L364.56,370.59 L364.99,369.47 L365.34,368.31 L365.60,367.10 L365.95,368.27 L366.28,369.44 L366.58,370.62 L366.90,371.79 L367.34,372.99 L367.91,374.06 L368.72,374.83 L369.85,375.46 L371.04,375.81 L372.19,375.95 L373.38,376.07 L374.60,376.17 L375.83,376.25 L377.07,376.31 L378.31,376.36 L379.54,376.39 L380.76,376.42 L381.97,376.44 L383.19,376.47 L384.40,376.49 L385.62,376.51 L386.84,376.54 L388.05,376.56 L389.27,376.58 L390.48,376.60 L391.70,376.62 L392.92,376.64 L394.13,376.66 L395.35,376.68 L396.57,376.70 L397.79,376.71 L399.00,376.73 L400.22,376.75 L401.44,376.76 L402.65,376.78 L403.87,376.79 L405.09,376.81 L406.31,376.82 L407.52,376.83 L408.74,376.85 L409.96,376.86 L411.18,376.87 L412.39,376.88 L413.61,376.89 L414.83,376.90 L416.05,376.91 L417.27,376.92 L418.48,376.93 L419.70,376.94 L420.92,376.94 L422.14,376.95 L423.35,376.96 L424.57,376.96 L425.79,376.97 L427.01,376.97 L428.22,376.98 L429.44,376.98 L430.66,376.99 L431.88,376.99 L433.09,376.99 L434.31,377.00 L435.53,377.00 L436.75,377.00 L437.96,377.00 L439.18,377.00 L440.40,377.00 L441.62,377.00 L442.84,376.99 L444.07,376.97 L445.30,376.95 L446.53,376.93 L447.75,376.89 L448.97,376.85 L450.19,376.81 L451.40,376.75 L452.60,376.69 L453.79,376.61 L455.00,376.42 L456.16,375.98 L457.09,375.28 L457.82,374.28 L458.40,373.20 L459.04,374.25 L459.80,375.24 L460.70,376.02 L461.83,376.54 L463.04,376.80 L464.23,376.87 L465.44,376.92 L466.65,376.96 L467.88,377.00 L469.12,377.03 L470.36,377.05 L471.60,377.07 L472.84,377.08 L474.07,377.09 L475.30,377.10 L476.53,377.11 L477.75,377.12 L478.98,377.13 L480.21,377.15 L481.43,377.15 L482.66,377.16 L483.89,377.17 L485.11,377.18 L486.34,377.19 L487.56,377.20 L488.79,377.21 L490.02,377.22 L491.24,377.22 L492.47,377.23 L493.70,377.24 L494.92,377.24 L496.15,377.25 L497.38,377.25 L498.60,377.26 L499.83,377.27 L501.05,377.27 L502.28,377.27 L503.51,377.28 L504.73,377.28 L505.96,377.29 L507.19,377.29 L508.41,377.29 L509.64,377.29 L510.87,377.30 L512.09,377.30 L513.32,377.30 L514.55,377.30 L515.77,377.30 L517.00,377.30" stroke="#ff0000"/>
<path d="M141.59,-20.00 L142.09,-15.47 L142.59,-11.00 L143.09,-6.58 L143.59,-2.20 L144.09,2.12 L144.59,6.39 L145.09,10.62 L145.59,14.79 L146.09,18.92 L146.59,23.01 L147.09,27.04 L147.59,31.03 L148.09,34.98 L148.59,38.88 L149.09,42.74 L149.59,46.56 L150.09,50.34 L150.59,54.08 L151.09,57.78 L151.59,61.44 L152.09,65.05 L152.59,68.63 L153.09,72.17 L153.59,75.67 L154.09,79.13 L154.59,82.55 L155.09,85.94 L155.59,89.29 L156.09,92.60 L156.59,95.88 L157.09,99.12 L157.59,102.32 L158.09,105.49 L158.59,108.62 L159.09,111.72 L159.59,114.78 L160.09,117.81 L160.59,120.80 L161.09,123.76 L161.59,126.69 L162.09,129.59 L162.59,132.45 L163.09,135.28 L163.59,138.08 L164.09,140.85 L164.59,143.58 L165.09,146.29 L165.59,148.96 L166.09,151.61 L166.59,154.22 L167.09,156.81 L167.59,159.36 L168.09,161.89 L168.59,164.39 L169.09,166.85 L169.59,169.30 L170.09,171.71 L170.59,174.09 L171.09,176.45 L171.59,178.78 L172.09,181.09 L172.59,183.36 L173.09,185.62 L173.59,187.84 L174.09,190.04 L174.59,192.22 L175.09,194.37 L175.59,196.49 L176.09,198.59 L176.59,200.67 L177.09,202.72 L177.59,204.74 L178.09,206.75 L178.59,208.73 L179.09,210.69 L179.59,212.62 L180.09,214.54 L180.59,216.43 L181.09,218.29 L181.59,220.14 L182.09,221.97 L182.59,223.77 L183.09,225.55 L183.59,227.31 L184.09,229.05 L184.59,230.77 L185.09,232.47 L185.59,234.15 L186.09,235.82 L186.59,237.46 L187.09,239.08 L187.59,240.68 L188.09,242.26 L188.59,243.83 L189.09,245.37 L189.59,246.90 L190.09,248.41 L190.59,249.91 L191.09,251.38 L191.59,252.84 L192.09,254.28 L192.59,255.70 L193.09,257.10 L193.59,258.49 L194.09,259.87 L194.59,261.22 L195.09,262.56 L195.59,263.89 L196.09,265.20 L196.59,266.49 L197.09,267.77 L197.59,269.03 L198.09,270.27 L198.59,271.51 L199.09,272.72 L199.59,273.93 L200.09,275.12 L200.59,276.29 L201.09,277.45 L201.59,278.60 L202.09,279.73 L202.59,280.85 L203.09,281.95 L203.59,283.04 L204.09,284.12 L204.59,285.19 L205.09,286.24 L205.59,287.28 L206.09,288.31 L206.59,289.32 L207.09,290.32 L207.59,291.31 L208.09,292.29 L208.59,293.25 L209.09,294.21 L209.59,295.15 L210.09,296.08 L210.59,297.00 L211.09,297.90 L211.59,298.80 L212.09,299.68 L212.59,300.56 L213.09,301.42 L213.59,302.27 L214.09,303.11 L214.59,303.94 L215.09,304.76 L215.59,305.57 L216.09,306.37 L216.59,307.16 L217.09,307.94 L217.59,308.71 L218.09,309.47 L218.59,310.22 L219.09,310.96 L219.59,311.69 L220.09,312.41 L220.59,313.13 L221.09,313.83 L221.59,314.52 L222.09,315.21 L222.59,315.89 L223.09,316.55 L223.59,317.21 L224.09,317.86 L224.59,318.50 L225.09,319.13 L225.59,319.75 L226.09,320.37 L226.59,320.97 L227.09,321.56 L227.59,322.14 L228.09,322.71 L228.59,323.27 L229.09,323.82 L229.59,324.35 L230.09,324.88 L230.59,325.40 L231.09,325.90 L231.59,326.40 L232.09,326.88 L232.59,327.35 L233.09,327.81 L233.59,328.26 L234.09,328.70 L234.59,329.13 L235.09,329.54 L235.59,329.95 L236.09,330.34 L236.59,330.72 L237.09,331.09 L237.59,331.45 L238.09,331.80 L238.59,332.13 L239.09,332.46 L239.59,332.77 L240.09,333.07 L240.59,333.36 L241.09,333.64 L241.59,333.91 L242.29,334.26 L243.42,334.81 L244.57,335.33 L245.74,335.79 L246.92,336.15 L248.13,336.40 L249.38,336.58 L250.59,336.51 L251.83,336.03 L252.92,335.32 L253.71,334.54 L254.30,333.50 L254.81,332.29 L255.29,331.06 L255.78,329.91 L256.25,328.76 L256.70,327.60 L256.96,328.79 L257.21,329.98 L257.43,331.17 L257.62,332.37 L257.77,333.57 L257.90,334.77 L258.02,335.98 L258.13,337.19 L258.23,338.40 L258.31,339.61 L258.39,340.82 L258.46,342.04 L258.52,343.25 L258.58,344.46 L258.63,345.67 L258.68,346.88 L258.72,348.10 L258.77,349.31 L258.82,350.52 L258.86,351.74 L258.90,352.95 L258.94,354.16 L258.98,355.37 L259.03,356.59 L259.09,357.80 L259.16,359.01 L259.26,360.22 L259.38,361.43 L259.51,362.64 L259.68,363.84 L259.88,365.03 L260.16,366.23 L260.49,367.40 L260.90,368.52 L261.46,369.65 L262.13,370.67 L262.90,371.50 L263.85,372.27 L264.92,372.95 L266.04,373.52 L267.16,373.95 L268.30,374.28 L269.49,374.55 L270.70,374.78 L271.91,374.98 L273.10,375.18 L274.30,375.38 L275.51,375.55 L276.71,375.70 L277.92,375.80 L279.13,375.86 L280.34,375.92 L281.55,375.97 L282.76,376.01 L283.98,376.05 L285.19,376.08 L286.40,376.11 L287.62,376.14 L288.83,376.17 L290.05,376.20 L291.26,376.23 L292.47,376.27 L293.68,376.30 L294.90,376.33 L296.11,376.36 L297.32,376.38 L298.54,376.39 L299.75,376.40 L300.96,376.40 L302.18,376.40 L303.39,376.40 L304.60,376.40 L305.82,376.39 L307.03,376.39 L308.25,376.39 L309.46,376.38 L310.67,376.38 L311.89,376.38 L313.10,376.37 L314.32,376.36 L315.53,376.36 L316.75,376.35 L317.96,376.34 L319.17,376.33 L320.39,376.33 L321.60,376.32 L322.82,376.31 L324.03,376.29 L325.24,376.28 L326.46,376.27 L327.67,376.26 L328.89,376.25 L330.10,376.23 L331.31,376.22 L332.53,376.20 L333.74,376.18 L334.95,376.17 L336.16,376.15 L337.38,376.13 L338.59,376.11 L339.80,376.09 L341.01,376.07 L342.22,376.05 L343.43,376.03 L344.64,376.01 L345.86,375.98 L347.07,375.93 L348.29,375.87 L349.51,375.78 L350.73,375.68 L351.94,375.57 L353.15,375.43 L354.35,375.28 L355.55,375.12 L356.73,374.94 L357.91,374.71 L359.09,374.37 L360.24,373.93 L361.33,373.44 L362.36,372.78 L363.32,372.04 L364.20,371.20 L365.02,372.12 L365.90,372.97 L366.85,373.77 L367.87,374.41 L368.99,374.96 L370.15,375.40 L371.33,375.65 L372.52,375.83 L373.74,375.98 L374.96,376.11 L376.20,376.21 L377.43,376.30 L378.67,376.36 L379.90,376.40 L381.12,376.42 L382.35,376.45 L383.57,376.48 L384.80,376.50 L386.02,376.53 L387.25,376.55 L388.47,376.57 L389.70,376.59 L390.92,376.62 L392.15,376.64 L393.37,376.66 L394.60,376.68 L395.83,376.70 L397.05,376.71 L398.28,376.73 L399.51,376.75 L400.73,376.76 L401.96,376.78 L403.19,376.79 L404.42,376.81 L405.64,376.82 L406.87,376.84 L408.10,376.85 L409.33,376.86 L410.55,376.87 L411.78,376.88 L413.01,376.89 L414.24,376.90 L415.46,376.91 L416.69,376.92 L417.92,376.93 L419.15,376.94 L420.38,376.95 L421.60,376.95 L422.83,376.96 L424.06,376.96 L425.29,376.97 L426.51,376.98 L427.74,376.98 L428.97,376.98 L430.20,376.99 L431.42,376.99 L432.65,376.99 L433.88,377.00 L435.11,377.00 L436.33,377.00 L437.56,377.00 L438.79,377.00 L440.01,377.00 L441.24,377.00 L442.47,376.98 L443.70,376.96 L444.93,376.93 L446.17,376.90 L447.39,376.85 L448.62,376.80 L449.84,376.73 L451.06,376.66 L452.27,376.58 L453.49,376.37 L454.68,376.06 L455.84,375.68 L456.94,375.15 L458.00,374.50 L459.07,375.15 L460.19,375.68 L461.34,376.09 L462.55,376.45 L463.76,376.68 L464.98,376.77 L466.21,376.84 L467.44,376.91 L468.68,376.96 L469.92,377.00 L471.17,377.04 L472.41,377.06 L473.66,377.08 L474.90,377.10 L476.14,377.11 L477.37,377.12 L478.61,377.13 L479.85,377.14 L481.09,377.16 L482.32,377.17 L483.56,377.18 L484.80,377.18 L486.04,377.19 L487.28,377.20 L488.52,377.21 L489.75,377.22 L490.99,377.23 L492.23,377.23 L493.47,377.24 L494.71,377.25 L495.94,377.25 L497.18,377.26 L498.42,377.26 L499.66,377.27 L500.90,377.27 L502.14,377.28 L503.37,377.28 L504.61,377.28 L505.85,377.29 L507.09,377.29 L508.33,377.29 L509.57,377.29 L510.81,377.30 L512.04,377.30 L513.28,377.30 L514.52,377.30 L515.76,377.30 L517.00,377.30" stroke="#00ff00"/>
<path d="M121.10,-20.00 L121.60,-15.69 L122.10,-11.44 L122.60,-7.22 L123.10,-3.06 L123.60,1.07 L124.10,5.14 L124.60,9.18 L125.10,13.16 L125.60,17.11 L126.10,21.01 L126.60,24.87 L127.10,28.69 L127.60,32.47 L128.10,36.21 L128.60,39.91 L129.10,43.57 L129.60,47.19 L130.10,50.77 L130.60,54.32 L131.10,57.82 L131.60,61.29 L132.10,64.72 L132.60,68.11 L133.10,71.47 L133.60,74.79 L134.10,78.08 L134.60,81.33 L135.10,84.55 L135.60,87.73 L136.10,90.88 L136.60,93.99 L137.10,97.07 L137.60,100.12 L138.10,103.13 L138.60,106.11 L139.10,109.06 L139.60,111.98 L140.10,114.86 L140.60,117.72 L141.10,120.54 L141.60,123.33 L142.10,126.10 L142.60,128.83 L143.10,131.53 L143.60,134.20 L144.10,136.85 L144.60,139.46 L145.10,142.05 L145.60,144.61 L146.10,147.14 L146.60,149.65 L147.10,152.12 L147.60,154.57 L148.10,156.99 L148.60,159.39 L149.10,161.76 L149.60,164.10 L150.10,166.42 L150.60,168.71 L151.10,170.98 L151.60,173.22 L152.10,175.44 L152.60,177.64 L153.10,179.81 L153.60,181.95 L154.10,184.07 L154.60,186.17 L155.10,188.25 L155.60,190.30 L156.10,192.33 L156.60,194.34 L157.10,196.33 L157.60,198.29 L158.10,200.23 L158.60,202.15 L159.10,204.05 L159.60,205.93 L160.10,207.79 L160.60,209.63 L161.10,211.45 L161.60,213.24 L162.10,215.02 L162.60,216.78 L163.10,218.52 L163.60,220.23 L164.10,221.93 L164.60,223.62 L165.10,225.28 L165.60,226.92 L166.10,228.55 L166.60,230.16 L167.10,231.75 L167.60,233.32 L168.10,234.87 L168.60,236.41 L169.10,237.93 L169.60,239.43 L170.10,240.92 L170.60,242.39 L171.10,243.84 L171.60,245.28 L172.10,246.70 L172.60,248.11 L173.10,249.50 L173.60,250.88 L174.10,252.23 L174.60,253.58 L175.10,254.91 L175.60,256.22 L176.10,257.52 L176.60,258.81 L177.10,260.08 L177.60,261.34 L178.10,262.58 L178.60,263.81 L179.10,265.02 L179.60,266.22 L180.10,267.41 L180.60,268.59 L181.10,269.75 L181.60,270.90 L182.10,272.04 L182.60,273.16 L183.10,274.27 L183.60,275.37 L184.10,276.45 L184.60,277.53 L185.10,278.59 L185.60,279.64 L186.10,280.68 L186.60,281.71 L187.10,282.72 L187.60,283.73 L188.10,284.72 L188.60,285.70 L189.10,286.67 L189.60,287.63 L190.10,288.58 L190.60,289.52 L191.10,290.45 L191.60,291.36 L192.10,292.27 L192.60,293.17 L193.10,294.05 L193.60,294.93 L194.10,295.80 L194.60,296.66 L195.10,297.51 L195.60,298.34 L196.10,299.17 L196.60,299.99 L197.10,300.80 L197.60,301.61 L198.10,302.40 L198.60,303.18 L199.10,303.96 L199.60,304.72 L200.10,305.48 L200.60,306.23 L201.10,306.97 L201.60,307.70 L202.10,308.43 L202.60,309.15 L203.10,309.85 L203.60,310.55 L204.10,311.25 L204.60,311.93 L205.10,312.61 L205.60,313.28 L206.10,313.94 L206.60,314.60 L207.10,315.25 L207.60,315.89 L208.10,316.52 L208.60,317.15 L209.10,317.77 L209.60,318.38 L210.10,318.99 L210.60,319.59 L211.10,320.18 L211.60,320.76 L212.10,321.34 L212.60,321.92 L213.10,322.49 L213.60,323.05 L214.10,323.60 L214.60,324.15 L215.10,324.69 L215.60,325.23 L216.10,325.76 L216.60,326.29 L217.10,326.81 L217.60,327.32 L218.10,327.83 L218.60,328.33 L219.10,328.83 L219.60,329.32 L220.10,329.80 L220.60,330.29 L221.10,330.76 L221.60,331.23 L222.10,331.70 L222.60,332.16 L223.10,332.61 L223.60,333.06 L224.10,333.51 L224.60,333.94 L225.10,334.37 L225.60,334.80 L226.10,335.21 L226.60,335.62 L227.10,336.02 L228.34,336.97 L229.31,337.70 L230.29,338.40 L231.30,339.08 L232.32,339.71 L233.36,340.30 L234.42,340.86 L235.51,341.39 L236.62,341.89 L237.74,342.34 L238.87,342.72 L240.02,343.07 L241.19,343.40 L242.36,343.69 L243.55,343.94 L244.73,344.12 L245.93,344.25 L247.13,344.37 L248.33,344.48 L249.55,344.58 L250.73,344.69 L251.86,345.22 L252.49,346.14 L252.91,347.28 L253.23,348.51 L253.50,349.68 L253.75,350.85 L253.99,352.03 L254.23,353.22 L254.46,354.40 L254.69,355.59 L254.90,356.78 L255.11,357.97 L255.34,359.15 L255.58,360.32 L255.88,361.49 L256.23,362.65 L256.64,363.79 L257.09,364.91 L257.59,365.99 L258.19,367.03 L258.88,368.03 L259.58,369.02 L260.26,370.03 L260.96,371.04 L261.73,371.95 L262.62,372.71 L263.64,373.41 L264.74,374.00 L265.86,374.39 L267.00,374.65 L268.18,374.88 L269.38,375.08 L270.60,375.25 L271.80,375.38 L273.00,375.49 L274.20,375.60 L275.40,375.71 L276.60,375.81 L277.80,375.89 L279.01,375.96 L280.21,376.01 L281.41,376.04 L282.62,376.07 L283.82,376.10 L285.02,376.14 L286.23,376.17 L287.43,376.20 L288.64,376.23 L289.84,376.25 L291.05,376.28 L292.25,376.30 L293.46,376.32 L294.66,376.34 L295.87,376.36 L297.07,376.37 L298.28,376.39 L299.48,376.40 L300.69,376.40 L301.89,376.41 L303.10,376.41 L304.30,376.41 L305.50,376.41 L306.71,376.41 L307.91,376.41 L309.12,376.41 L310.33,376.40 L311.53,376.39 L312.74,376.39 L313.94,376.38 L315.15,376.37 L316.35,376.36 L317.56,376.34 L318.76,376.33 L319.97,376.32 L321.17,376.30 L322.38,376.29 L323.58,376.27 L324.79,376.25 L325.99,376.23 L327.20,376.22 L328.40,376.20 L329.60,376.18 L330.81,376.16 L332.01,376.14 L333.22,376.12 L334.42,376.10 L335.62,376.08 L336.83,376.06 L338.03,376.03 L339.23,376.01 L340.44,375.99 L341.64,375.95 L342.85,375.90 L344.05,375.83 L345.26,375.74 L346.46,375.65 L347.66,375.54 L348.87,375.43 L350.07,375.31 L351.26,375.19 L352.46,375.06 L353.65,374.94 L354.84,374.77 L356.02,374.49 L357.20,374.14 L358.37,373.79 L359.55,373.50 L360.72,373.32 L361.89,373.33 L363.05,373.56 L364.21,373.92 L365.38,374.33 L366.54,374.69 L367.72,374.93 L368.91,375.12 L370.09,375.31 L371.29,375.50 L372.48,375.68 L373.68,375.85 L374.88,376.01 L376.08,376.14 L377.28,376.25 L378.48,376.34 L379.68,376.39 L380.88,376.42 L382.09,376.45 L383.29,376.47 L384.49,376.50 L385.69,376.52 L386.89,376.55 L388.09,376.58 L389.30,376.60 L390.50,376.63 L391.70,376.65 L392.91,376.68 L394.11,376.70 L395.31,376.73 L396.52,376.75 L397.72,376.77 L398.93,376.79 L400.13,376.82 L401.34,376.84 L402.54,376.86 L403.75,376.88 L404.95,376.90 L406.16,376.92 L407.36,376.94 L408.57,376.95 L409.77,376.97 L410.98,376.98 L412.18,377.00 L413.39,377.01 L414.60,377.03 L415.80,377.04 L417.01,377.05 L418.21,377.06 L419.42,377.07 L420.63,377.07 L421.83,377.08 L423.04,377.08 L424.24,377.09 L425.45,377.09 L426.66,377.09 L427.86,377.09 L429.07,377.09 L430.27,377.09 L431.48,377.08 L432.68,377.07 L433.89,377.07 L435.09,377.06 L436.30,377.05 L437.50,377.03 L438.71,377.02 L439.91,377.00 L441.12,376.98 L442.32,376.96 L443.53,376.93 L444.73,376.89 L445.94,376.86 L447.14,376.82 L448.34,376.78 L449.55,376.75 L450.75,376.71 L451.96,376.68 L453.16,376.65 L454.37,376.63 L455.57,376.61 L456.77,376.60 L457.98,376.60 L459.18,376.61 L460.39,376.63 L461.59,376.65 L462.80,376.69 L464.00,376.73 L465.20,376.77 L466.41,376.82 L467.61,376.87 L468.82,376.92 L470.02,376.96 L471.22,377.01 L472.43,377.04 L473.63,377.08 L474.84,377.10 L476.04,377.11 L477.25,377.13 L478.45,377.15 L479.65,377.16 L480.86,377.17 L482.06,377.19 L483.27,377.20 L484.47,377.21 L485.68,377.23 L486.88,377.24 L488.09,377.25 L489.29,377.26 L490.50,377.27 L491.70,377.28 L492.90,377.28 L494.11,377.29 L495.31,377.30 L496.52,377.30 L497.72,377.31 L498.93,377.32 L500.13,377.32 L501.34,377.32 L502.54,377.33 L503.75,377.33 L504.95,377.33 L506.16,377.33 L507.36,377.33 L508.57,377.33 L509.77,377.33 L510.98,377.32 L512.18,377.32 L513.39,377.32 L514.59,377.31 L515.80,377.31 L517.00,377.30" stroke="#00ffff"/>
<path d="M67.35,-20.00 L67.85,-16.28 L68.35,-12.60 L68.85,-8.96 L69.35,-5.34 L69.85,-1.76 L70.35,1.78 L70.85,5.30 L71.35,8.77 L71.85,12.22 L72.35,15.64 L72.85,19.02 L73.35,22.37 L73.85,25.69 L74.35,28.98 L74.85,32.24 L75.35,35.46 L75.85,38.66 L76.35,41.83 L76.85,44.96 L77.35,48.07 L77.85,51.15 L78.35,54.20 L78.85,57.22 L79.35,60.21 L79.85,63.18 L80.35,66.11 L80.85,69.02 L81.35,71.90 L81.85,74.76 L82.35,77.59 L82.85,80.39 L83.35,83.16 L83.85,85.91 L84.35,88.63 L84.85,91.33 L85.35,94.00 L85.85,96.65 L86.35,99.27 L86.85,101.87 L87.35,104.44 L87.85,106.99 L88.35,109.51 L88.85,112.01 L89.35,114.49 L89.85,116.94 L90.35,119.37 L90.85,121.78 L91.35,124.17 L91.85,126.53 L92.35,128.87 L92.85,131.19 L93.35,133.49 L93.85,135.76 L94.35,138.02 L94.85,140.25 L95.35,142.46 L95.85,144.65 L96.35,146.82 L96.85,148.97 L97.35,151.10 L97.85,153.21 L98.35,155.30 L98.85,157.37 L99.35,159.42 L99.85,161.45 L100.35,163.46 L100.85,165.45 L101.35,167.43 L101.85,169.38 L102.35,171.32 L102.85,173.24 L103.35,175.14 L103.85,177.02 L104.35,178.89 L104.85,180.74 L105.35,182.57 L105.85,184.38 L106.35,186.18 L106.85,187.96 L107.35,189.72 L107.85,191.46 L108.35,193.19 L108.85,194.91 L109.35,196.60 L109.85,198.28 L110.35,199.95 L110.85,201.60 L111.35,203.23 L111.85,204.85 L112.35,206.46 L112.85,208.04 L113.35,209.62 L113.85,211.18 L114.35,212.72 L114.85,214.25 L115.35,215.76 L115.85,217.26 L116.35,218.75 L116.85,220.22 L117.35,221.68 L117.85,223.13 L118.35,224.56 L118.85,225.98 L119.35,227.38 L119.85,228.77 L120.35,230.15 L120.85,231.51 L121.35,232.87 L121.85,234.21 L122.35,235.53 L122.85,236.85 L123.35,238.15 L123.85,239.44 L124.35,240.72 L124.85,241.98 L125.35,243.24 L125.85,244.48 L126.35,245.71 L126.85,246.93 L127.35,248.14 L127.85,249.33 L128.35,250.52 L128.85,251.69 L129.35,252.85 L129.85,254.00 L130.35,255.14 L130.85,256.27 L131.35,257.39 L131.85,258.50 L132.35,259.60 L132.85,260.69 L133.35,261.77 L133.85,262.83 L134.35,263.89 L134.85,264.94 L135.35,265.98 L135.85,267.01 L136.35,268.02 L136.85,269.03 L137.35,270.03 L137.85,271.02 L138.35,272.00 L138.85,272.97 L139.35,273.94 L139.85,274.89 L140.35,275.83 L140.85,276.77 L141.35,277.70 L141.85,278.61 L142.35,279.52 L142.85,280.42 L143.35,281.32 L143.85,282.20 L144.35,283.08 L144.85,283.94 L145.35,284.80 L145.85,285.65 L146.35,286.50 L146.85,287.33 L147.35,288.16 L147.85,288.98 L148.35,289.79 L148.85,290.60 L149.35,291.39 L149.85,292.18 L150.35,292.97 L150.85,293.74 L151.35,294.51 L151.85,295.27 L152.35,296.02 L152.85,296.77 L153.35,297.51 L153.85,298.24 L154.35,298.96 L154.85,299.68 L155.35,300.39 L155.85,301.10 L156.35,301.80 L156.85,302.49 L157.35,303.17 L157.85,303.85 L158.35,304.52 L158.85,305.19 L159.35,305.85 L159.85,306.50 L160.35,307.15 L160.85,307.79 L161.35,308.43 L161.85,309.06 L162.35,309.68 L162.85,310.30 L163.35,310.91 L163.85,311.52 L164.35,312.12 L164.85,312.71 L165.35,313.30 L165.85,313.89 L166.35,314.47 L166.85,315.04 L167.35,315.61 L167.85,316.17 L168.35,316.73 L168.85,317.28 L169.35,317.83 L169.85,318.37 L170.35,318.90 L170.85,319.44 L171.35,319.96 L171.85,320.48 L172.35,321.00 L172.85,321.51 L173.35,322.02 L173.85,322.52 L174.35,323.02 L174.85,323.51 L175.35,324.00 L175.85,324.49 L176.35,324.97 L176.85,325.44 L177.35,325.91 L177.85,326.38 L178.35,326.84 L178.85,327.30 L179.35,327.75 L179.85,328.20 L180.35,328.64 L180.85,329.09 L181.35,329.52 L181.85,329.95 L182.35,330.38 L182.85,330.81 L183.35,331.23 L183.85,331.65 L184.35,332.06 L184.85,332.47 L185.35,332.87 L185.85,333.27 L186.35,333.67 L186.85,334.06 L187.35,334.45 L187.85,334.84 L188.35,335.22 L188.85,335.60 L189.35,335.98 L189.85,336.35 L190.35,336.72 L190.85,337.09 L191.35,337.45 L191.85,337.81 L192.35,338.16 L192.85,338.52 L193.35,338.86 L193.85,339.21 L194.35,339.55 L194.85,339.89 L195.35,340.23 L195.85,340.56 L196.35,340.89 L196.85,341.22 L197.35,341.54 L197.85,341.86 L198.35,342.18 L198.85,342.49 L199.35,342.81 L199.85,343.12 L200.35,343.42 L200.85,343.73 L201.35,344.03 L201.85,344.32 L202.35,344.62 L202.85,344.91 L203.35,345.20 L203.85,345.49 L204.35,345.77 L204.85,346.05 L205.35,346.33 L205.85,346.61 L206.35,346.88 L206.85,347.15 L207.35,347.42 L207.85,347.69 L208.35,347.95 L208.85,348.21 L209.35,348.47 L209.85,348.73 L210.35,348.98 L210.85,349.24 L211.35,349.48 L211.85,349.73 L212.35,349.98 L212.85,350.22 L213.35,350.46 L213.85,350.70 L214.35,350.93 L214.85,351.17 L215.35,351.40 L216.24,351.81 L217.34,352.31 L218.45,352.80 L219.56,353.28 L220.67,353.74 L221.79,354.20 L222.92,354.64 L224.05,355.06 L225.18,355.48 L226.32,355.90 L227.45,356.31 L228.59,356.73 L229.72,357.16 L230.84,357.59 L231.98,358.03 L233.12,358.47 L234.24,358.93 L235.34,359.42 L236.39,359.96 L237.40,360.61 L238.38,361.34 L239.32,362.11 L240.24,362.90 L241.11,363.73 L241.95,364.60 L242.80,365.47 L243.69,366.28 L244.61,367.07 L245.55,367.85 L246.50,368.61 L247.47,369.33 L248.47,370.01 L249.48,370.63 L250.54,371.22 L251.64,371.78 L252.76,372.26 L253.89,372.62 L255.04,372.92 L256.22,373.18 L257.41,373.42 L258.61,373.64 L259.80,373.86 L260.99,374.09 L262.18,374.32 L263.37,374.52 L264.57,374.67 L265.77,374.81 L266.97,374.94 L268.17,375.06 L269.37,375.18 L270.58,375.29 L271.78,375.39 L272.99,375.48 L274.20,375.56 L275.40,375.62 L276.61,375.68 L277.81,375.75 L279.02,375.81 L280.23,375.88 L281.43,375.94 L282.64,376.00 L283.85,376.06 L285.05,376.12 L286.26,376.18 L287.47,376.23 L288.68,376.27 L289.89,376.31 L291.09,376.34 L292.30,376.37 L293.51,376.39 L294.72,376.40 L295.92,376.40 L297.13,376.41 L298.34,376.41 L299.55,376.41 L300.76,376.41 L301.96,376.41 L303.17,376.41 L304.38,376.41 L305.59,376.41 L306.80,376.40 L308.01,376.40 L309.21,376.40 L310.42,376.39 L311.63,376.38 L312.84,376.38 L314.05,376.37 L315.26,376.36 L316.46,376.35 L317.67,376.34 L318.88,376.33 L320.09,376.32 L321.30,376.31 L322.51,376.29 L323.71,376.28 L324.92,376.27 L326.13,376.25 L327.34,376.24 L328.55,376.22 L329.75,376.20 L330.96,376.19 L332.17,376.16 L333.38,376.14 L334.59,376.11 L335.79,376.08 L337.00,376.05 L338.21,376.01 L339.42,375.97 L340.63,375.94 L341.83,375.90 L343.04,375.87 L344.25,375.83 L345.46,375.79 L346.67,375.76 L347.87,375.73 L349.08,375.70 L350.29,375.67 L351.50,375.65 L352.71,375.63 L353.91,375.62 L355.12,375.61 L356.33,375.60 L357.54,375.60 L358.74,375.61 L359.95,375.62 L361.16,375.65 L362.37,375.68 L363.57,375.71 L364.78,375.75 L365.99,375.79 L367.20,375.84 L368.40,375.89 L369.61,375.94 L370.82,375.99 L372.03,376.05 L373.23,376.10 L374.44,376.16 L375.65,376.21 L376.86,376.26 L378.06,376.31 L379.27,376.35 L380.48,376.39 L381.69,376.43 L382.89,376.46 L384.10,376.49 L385.31,376.50 L386.52,376.52 L387.73,376.54 L388.93,376.56 L390.14,376.57 L391.35,376.59 L392.56,376.61 L393.77,376.62 L394.97,376.64 L396.18,376.65 L397.39,376.67 L398.60,376.69 L399.81,376.70 L401.01,376.72 L402.22,376.73 L403.43,376.75 L404.64,376.76 L405.85,376.78 L407.06,376.79 L408.26,376.80 L409.47,376.82 L410.68,376.83 L411.89,376.84 L413.10,376.86 L414.30,376.87 L415.51,376.88 L416.72,376.89 L417.93,376.90 L419.14,376.91 L420.35,376.92 L421.55,376.93 L422.76,376.94 L423.97,376.95 L425.18,376.96 L426.39,376.96 L427.60,376.97 L428.80,376.98 L430.01,376.98 L431.22,376.99 L432.43,376.99 L433.64,376.99 L434.84,377.00 L436.05,377.00 L437.26,377.00 L438.47,377.00 L439.68,377.00 L440.89,377.00 L442.09,376.99 L443.30,376.99 L444.51,376.98 L445.72,376.97 L446.93,376.96 L448.13,376.95 L449.34,376.94 L450.55,376.93 L451.76,376.92 L452.97,376.91 L454.18,376.90 L455.38,376.90 L456.59,376.90 L457.80,376.90 L459.01,376.90 L460.22,376.91 L461.42,376.92 L462.63,376.94 L463.84,376.95 L465.05,376.97 L466.26,376.99 L467.46,377.01 L468.67,377.03 L469.88,377.06 L471.09,377.08 L472.30,377.10 L473.51,377.12 L474.71,377.14 L475.92,377.16 L477.13,377.17 L478.34,377.19 L479.55,377.20 L480.75,377.21 L481.96,377.21 L483.17,377.22 L484.38,377.23 L485.59,377.23 L486.79,377.24 L488.00,377.25 L489.21,377.25 L490.42,377.26 L491.63,377.27 L492.84,377.27 L494.04,377.28 L495.25,377.28 L496.46,377.28 L497.67,377.29 L498.88,377.29 L500.08,377.30 L501.29,377.30 L502.50,377.30 L503.71,377.30 L504.92,377.30 L506.13,377.31 L507.33,377.31 L508.54,377.31 L509.75,377.31 L510.96,377.31 L512.17,377.31 L513.38,377.31 L514.58,377.30 L515.79,377.30 L517.00,377.30" stroke="#0000ff"/>
</g>
<line x1="301.2" y1="34.90" x2="402.8" y2="34.90" stroke="#ff00ff" stroke-width="2"/>
<g font-family="Liberation Serif, serif" font-size="21.5" fill="#000" stroke="#000" stroke-width="0.12"><text x="412.5" y="41.20" textLength="12.5" lengthAdjust="spacingAndGlyphs">T</text><text x="424.3" y="41.20" textLength="10.4" lengthAdjust="spacingAndGlyphs">*</text><text x="435.2" y="41.20" textLength="14.6" lengthAdjust="spacingAndGlyphs">=</text><text x="450.4" y="41.20" textLength="48.4" lengthAdjust="spacingAndGlyphs">0.255</text></g>
<line x1="301.2" y1="55.83" x2="402.8" y2="55.83" stroke="#000000" stroke-width="2"/>
<g font-family="Liberation Serif, serif" font-size="21.5" fill="#000" stroke="#000" stroke-width="0.12"><text x="412.5" y="62.13" textLength="12.5" lengthAdjust="spacingAndGlyphs">T</text><text x="424.3" y="62.13" textLength="10.4" lengthAdjust="spacingAndGlyphs">*</text><text x="435.2" y="62.13" textLength="14.6" lengthAdjust="spacingAndGlyphs">=</text><text x="450.4" y="62.13" textLength="48.4" lengthAdjust="spacingAndGlyphs">0.260</text></g>
<line x1="301.2" y1="76.76" x2="402.8" y2="76.76" stroke="#800018" stroke-width="2"/>
<g font-family="Liberation Serif, serif" font-size="21.5" fill="#000" stroke="#000" stroke-width="0.12"><text x="412.5" y="83.06" textLength="12.5" lengthAdjust="spacingAndGlyphs">T</text><text x="424.3" y="83.06" textLength="10.4" lengthAdjust="spacingAndGlyphs">*</text><text x="435.2" y="83.06" textLength="14.6" lengthAdjust="spacingAndGlyphs">=</text><text x="450.4" y="83.06" textLength="48.4" lengthAdjust="spacingAndGlyphs">0.265</text></g>
<line x1="301.2" y1="97.69" x2="402.8" y2="97.69" stroke="#ff0000" stroke-width="2"/>
<g font-family="Liberation Serif, serif" font-size="21.5" fill="#000" stroke="#000" stroke-width="0.12"><text x="412.5" y="103.99" textLength="12.5" lengthAdjust="spacingAndGlyphs">T</text><text x="424.3" y="103.99" textLength="10.4" lengthAdjust="spacingAndGlyphs">*</text><text x="435.2" y="103.99" textLength="14.6" lengthAdjust="spacingAndGlyphs">=</text><text x="450.4" y="103.99" textLength="48.4" lengthAdjust="spacingAndGlyphs">0.270</text></g>
<line x1="301.2" y1="118.62" x2="402.8" y2="118.62" stroke="#00ff00" stroke-width="2"/>
<g font-family="Liberation Serif, serif" font-size="21.5" fill="#000" stroke="#000" stroke-width="0.12"><text x="412.5" y="124.92" textLength="12.5" lengthAdjust="spacingAndGlyphs">T</text><text x="424.3" y="124.92" textLength="10.4" lengthAdjust="spacingAndGlyphs">*</text><text x="435.2" y="124.92" textLength="14.6" lengthAdjust="spacingAndGlyphs">=</text><text x="450.4" y="124.92" textLength="48.4" lengthAdjust="spacingAndGlyphs">0.280</text></g>
<line x1="301.2" y1="139.55" x2="402.8" y2="139.55" stroke="#00ffff" stroke-width="2"/>
<g font-family="Liberation Serif, serif" font-size="21.5" fill="#000" stroke="#000" stroke-width="0.12"><text x="412.5" y="145.85" textLength="12.5" lengthAdjust="spacingAndGlyphs">T</text><text x="424.3" y="145.85" textLength="10.4" lengthAdjust="spacingAndGlyphs">*</text><text x="435.2" y="145.85" textLength="14.6" lengthAdjust="spacingAndGlyphs">=</text><text x="450.4" y="145.85" textLength="48.4" lengthAdjust="spacingAndGlyphs">0.300</text></g>
<line x1="301.2" y1="160.48" x2="402.8" y2="160.48" stroke="#0000ff" stroke-width="2"/>
<g font-family="Liberation Serif, serif" font-size="21.5" fill="#000" stroke="#000" stroke-width="0.12"><text x="412.5" y="166.78" textLength="12.5" lengthAdjust="spacingAndGlyphs">T</text><text x="424.3" y="166.78" textLength="10.4" lengthAdjust="spacingAndGlyphs">*</text><text x="435.2" y="166.78" textLength="14.6" lengthAdjust="spacingAndGlyphs">=</text><text x="450.4" y="166.78" textLength="48.4" lengthAdjust="spacingAndGlyphs">0.350</text></g>
<text x="45.5" y="382.30" text-anchor="end" textLength="6.53" font-family="Liberation Serif, serif" font-size="13.9" fill="#000" lengthAdjust="spacingAndGlyphs">0</text>
<text x="45.5" y="257.83" text-anchor="end" textLength="19.60" font-family="Liberation Serif, serif" font-size="13.9" fill="#000" lengthAdjust="spacingAndGlyphs">100</text>
<text x="45.5" y="133.37" text-anchor="end" textLength="19.60" font-family="Liberation Serif, serif" font-size="13.9" fill="#000" lengthAdjust="spacingAndGlyphs">200</text>
<text x="45.5" y="9.50" text-anchor="end" textLength="19.60" font-family="Liberation Serif, serif" font-size="13.9" fill="#000" lengthAdjust="spacingAndGlyphs">300</text>
<text x="54.20" y="397.5" text-anchor="middle" textLength="13.90" font-family="Liberation Serif, serif" font-size="13.9" fill="#000" lengthAdjust="spacingAndGlyphs">−1</text>
<text x="206.07" y="397.5" text-anchor="middle" textLength="6.53" font-family="Liberation Serif, serif" font-size="13.9" fill="#000" lengthAdjust="spacingAndGlyphs">0</text>
<text x="359.43" y="397.5" text-anchor="middle" textLength="6.53" font-family="Liberation Serif, serif" font-size="13.9" fill="#000" lengthAdjust="spacingAndGlyphs">1</text>
<text x="512.80" y="397.5" text-anchor="middle" textLength="6.53" font-family="Liberation Serif, serif" font-size="13.9" fill="#000" lengthAdjust="spacingAndGlyphs">2</text>
<g font-family="Liberation Serif, serif" font-size="22.5" fill="#000" stroke="#000" stroke-width="0.12"><text x="184.0" y="422.7" textLength="89.6" lengthAdjust="spacingAndGlyphs">Chemical</text><text x="279.9" y="422.7" textLength="90.4" lengthAdjust="spacingAndGlyphs">potential,</text><text x="373.8" y="422.7" textLength="14.8" lengthAdjust="spacingAndGlyphs">μ</text><text x="387.8" y="421.2" font-size="20">*</text></g>
<g transform="translate(15.9,345.6) rotate(-90)" font-family="Liberation Serif, serif" fill="#000" stroke="#000" stroke-width="0.12"><text x="0" y="0" font-size="22" textLength="104.8" lengthAdjust="spacingAndGlyphs">Isothermal</text><text x="109.4" y="0" font-size="22" textLength="156.6" lengthAdjust="spacingAndGlyphs">compressibility,</text><text x="270.2" y="0" font-size="22.5" textLength="14.6" lengthAdjust="spacingAndGlyphs">κ</text><text x="283.6" y="-0.9" font-size="18" textLength="7.9" lengthAdjust="spacingAndGlyphs">*</text><text x="284.8" y="4.8" font-size="13.5" textLength="6.6" lengthAdjust="spacingAndGlyphs">T</text></g>
<text x="13.3" y="427.6" font-family="Liberation Sans, sans-serif" font-size="24" textLength="32.1" lengthAdjust="spacingAndGlyphs" fill="#000">(b)</text>
</svg>
</body></html>
